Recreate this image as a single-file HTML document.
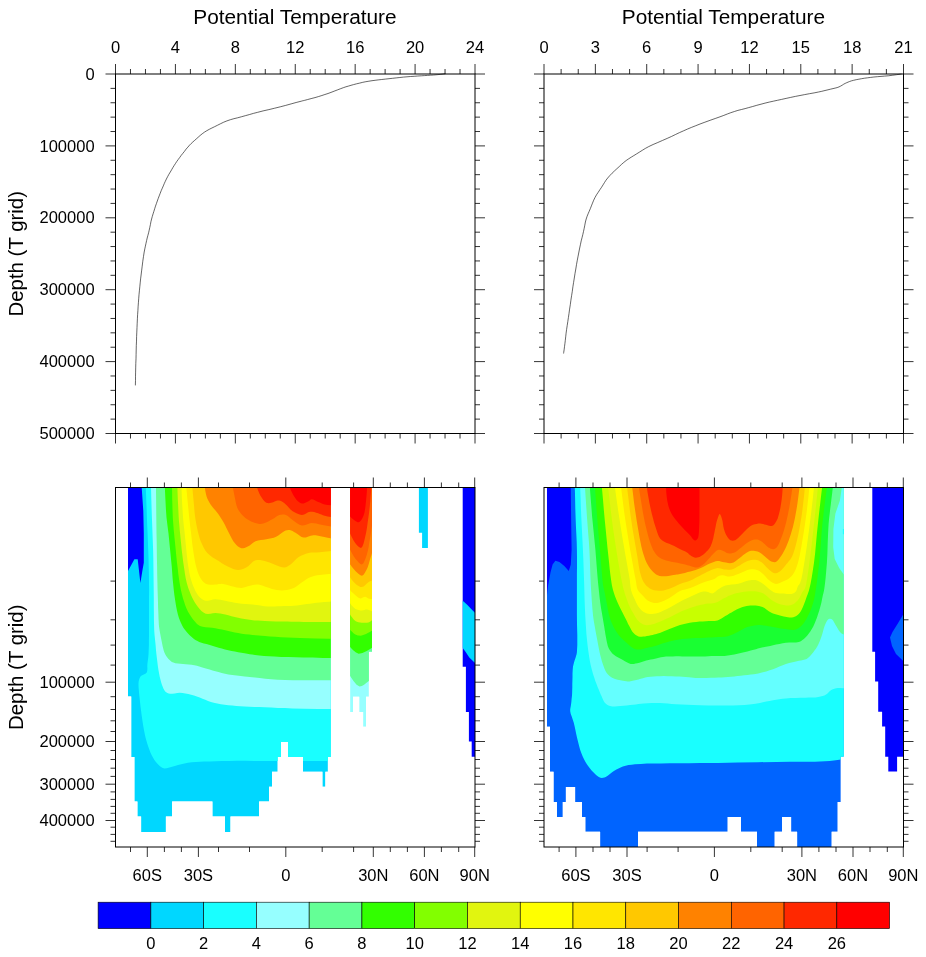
<!DOCTYPE html>
<html lang="en"><head><meta charset="utf-8"><title>Potential Temperature</title>
<style>html,body{margin:0;padding:0;background:#fff;}svg{display:block;}text{font-family:'Liberation Sans', sans-serif;fill:#000;}</style>
</head><body><div id="fig" style="width:926px;height:957px;will-change:transform">
<svg width="926" height="957" viewBox="0 0 926 957">
<rect x="0" y="0" width="926" height="957" fill="#fff"/>
<rect x="115.5" y="74.0" width="359.5" height="359.5" fill="none" stroke="#000" stroke-width="1.0"/>
<line x1="115.50" y1="64.00" x2="115.50" y2="74.00" stroke="#000" stroke-width="0.8"/>
<line x1="115.50" y1="433.50" x2="115.50" y2="443.50" stroke="#000" stroke-width="0.8"/>
<text transform="translate(115.50 52.60) scale(1.06 1)" font-size="15.6" text-anchor="middle">0</text>
<line x1="130.48" y1="69.00" x2="130.48" y2="74.00" stroke="#000" stroke-width="0.8"/>
<line x1="130.48" y1="433.50" x2="130.48" y2="438.50" stroke="#000" stroke-width="0.8"/>
<line x1="145.46" y1="69.00" x2="145.46" y2="74.00" stroke="#000" stroke-width="0.8"/>
<line x1="145.46" y1="433.50" x2="145.46" y2="438.50" stroke="#000" stroke-width="0.8"/>
<line x1="160.44" y1="69.00" x2="160.44" y2="74.00" stroke="#000" stroke-width="0.8"/>
<line x1="160.44" y1="433.50" x2="160.44" y2="438.50" stroke="#000" stroke-width="0.8"/>
<line x1="175.42" y1="64.00" x2="175.42" y2="74.00" stroke="#000" stroke-width="0.8"/>
<line x1="175.42" y1="433.50" x2="175.42" y2="443.50" stroke="#000" stroke-width="0.8"/>
<text transform="translate(175.42 52.60) scale(1.06 1)" font-size="15.6" text-anchor="middle">4</text>
<line x1="190.40" y1="69.00" x2="190.40" y2="74.00" stroke="#000" stroke-width="0.8"/>
<line x1="190.40" y1="433.50" x2="190.40" y2="438.50" stroke="#000" stroke-width="0.8"/>
<line x1="205.38" y1="69.00" x2="205.38" y2="74.00" stroke="#000" stroke-width="0.8"/>
<line x1="205.38" y1="433.50" x2="205.38" y2="438.50" stroke="#000" stroke-width="0.8"/>
<line x1="220.35" y1="69.00" x2="220.35" y2="74.00" stroke="#000" stroke-width="0.8"/>
<line x1="220.35" y1="433.50" x2="220.35" y2="438.50" stroke="#000" stroke-width="0.8"/>
<line x1="235.33" y1="64.00" x2="235.33" y2="74.00" stroke="#000" stroke-width="0.8"/>
<line x1="235.33" y1="433.50" x2="235.33" y2="443.50" stroke="#000" stroke-width="0.8"/>
<text transform="translate(235.33 52.60) scale(1.06 1)" font-size="15.6" text-anchor="middle">8</text>
<line x1="250.31" y1="69.00" x2="250.31" y2="74.00" stroke="#000" stroke-width="0.8"/>
<line x1="250.31" y1="433.50" x2="250.31" y2="438.50" stroke="#000" stroke-width="0.8"/>
<line x1="265.29" y1="69.00" x2="265.29" y2="74.00" stroke="#000" stroke-width="0.8"/>
<line x1="265.29" y1="433.50" x2="265.29" y2="438.50" stroke="#000" stroke-width="0.8"/>
<line x1="280.27" y1="69.00" x2="280.27" y2="74.00" stroke="#000" stroke-width="0.8"/>
<line x1="280.27" y1="433.50" x2="280.27" y2="438.50" stroke="#000" stroke-width="0.8"/>
<line x1="295.25" y1="64.00" x2="295.25" y2="74.00" stroke="#000" stroke-width="0.8"/>
<line x1="295.25" y1="433.50" x2="295.25" y2="443.50" stroke="#000" stroke-width="0.8"/>
<text transform="translate(295.25 52.60) scale(1.06 1)" font-size="15.6" text-anchor="middle">12</text>
<line x1="310.23" y1="69.00" x2="310.23" y2="74.00" stroke="#000" stroke-width="0.8"/>
<line x1="310.23" y1="433.50" x2="310.23" y2="438.50" stroke="#000" stroke-width="0.8"/>
<line x1="325.21" y1="69.00" x2="325.21" y2="74.00" stroke="#000" stroke-width="0.8"/>
<line x1="325.21" y1="433.50" x2="325.21" y2="438.50" stroke="#000" stroke-width="0.8"/>
<line x1="340.19" y1="69.00" x2="340.19" y2="74.00" stroke="#000" stroke-width="0.8"/>
<line x1="340.19" y1="433.50" x2="340.19" y2="438.50" stroke="#000" stroke-width="0.8"/>
<line x1="355.17" y1="64.00" x2="355.17" y2="74.00" stroke="#000" stroke-width="0.8"/>
<line x1="355.17" y1="433.50" x2="355.17" y2="443.50" stroke="#000" stroke-width="0.8"/>
<text transform="translate(355.17 52.60) scale(1.06 1)" font-size="15.6" text-anchor="middle">16</text>
<line x1="370.15" y1="69.00" x2="370.15" y2="74.00" stroke="#000" stroke-width="0.8"/>
<line x1="370.15" y1="433.50" x2="370.15" y2="438.50" stroke="#000" stroke-width="0.8"/>
<line x1="385.12" y1="69.00" x2="385.12" y2="74.00" stroke="#000" stroke-width="0.8"/>
<line x1="385.12" y1="433.50" x2="385.12" y2="438.50" stroke="#000" stroke-width="0.8"/>
<line x1="400.10" y1="69.00" x2="400.10" y2="74.00" stroke="#000" stroke-width="0.8"/>
<line x1="400.10" y1="433.50" x2="400.10" y2="438.50" stroke="#000" stroke-width="0.8"/>
<line x1="415.08" y1="64.00" x2="415.08" y2="74.00" stroke="#000" stroke-width="0.8"/>
<line x1="415.08" y1="433.50" x2="415.08" y2="443.50" stroke="#000" stroke-width="0.8"/>
<text transform="translate(415.08 52.60) scale(1.06 1)" font-size="15.6" text-anchor="middle">20</text>
<line x1="430.06" y1="69.00" x2="430.06" y2="74.00" stroke="#000" stroke-width="0.8"/>
<line x1="430.06" y1="433.50" x2="430.06" y2="438.50" stroke="#000" stroke-width="0.8"/>
<line x1="445.04" y1="69.00" x2="445.04" y2="74.00" stroke="#000" stroke-width="0.8"/>
<line x1="445.04" y1="433.50" x2="445.04" y2="438.50" stroke="#000" stroke-width="0.8"/>
<line x1="460.02" y1="69.00" x2="460.02" y2="74.00" stroke="#000" stroke-width="0.8"/>
<line x1="460.02" y1="433.50" x2="460.02" y2="438.50" stroke="#000" stroke-width="0.8"/>
<line x1="475.00" y1="64.00" x2="475.00" y2="74.00" stroke="#000" stroke-width="0.8"/>
<line x1="475.00" y1="433.50" x2="475.00" y2="443.50" stroke="#000" stroke-width="0.8"/>
<text transform="translate(475.00 52.60) scale(1.06 1)" font-size="15.6" text-anchor="middle">24</text>
<line x1="105.50" y1="74.00" x2="115.50" y2="74.00" stroke="#000" stroke-width="0.8"/>
<line x1="475.00" y1="74.00" x2="485.00" y2="74.00" stroke="#000" stroke-width="0.8"/>
<line x1="110.50" y1="88.38" x2="115.50" y2="88.38" stroke="#000" stroke-width="0.8"/>
<line x1="475.00" y1="88.38" x2="480.00" y2="88.38" stroke="#000" stroke-width="0.8"/>
<line x1="110.50" y1="102.76" x2="115.50" y2="102.76" stroke="#000" stroke-width="0.8"/>
<line x1="475.00" y1="102.76" x2="480.00" y2="102.76" stroke="#000" stroke-width="0.8"/>
<line x1="110.50" y1="117.14" x2="115.50" y2="117.14" stroke="#000" stroke-width="0.8"/>
<line x1="475.00" y1="117.14" x2="480.00" y2="117.14" stroke="#000" stroke-width="0.8"/>
<line x1="110.50" y1="131.52" x2="115.50" y2="131.52" stroke="#000" stroke-width="0.8"/>
<line x1="475.00" y1="131.52" x2="480.00" y2="131.52" stroke="#000" stroke-width="0.8"/>
<line x1="105.50" y1="145.90" x2="115.50" y2="145.90" stroke="#000" stroke-width="0.8"/>
<line x1="475.00" y1="145.90" x2="485.00" y2="145.90" stroke="#000" stroke-width="0.8"/>
<line x1="110.50" y1="160.28" x2="115.50" y2="160.28" stroke="#000" stroke-width="0.8"/>
<line x1="475.00" y1="160.28" x2="480.00" y2="160.28" stroke="#000" stroke-width="0.8"/>
<line x1="110.50" y1="174.66" x2="115.50" y2="174.66" stroke="#000" stroke-width="0.8"/>
<line x1="475.00" y1="174.66" x2="480.00" y2="174.66" stroke="#000" stroke-width="0.8"/>
<line x1="110.50" y1="189.04" x2="115.50" y2="189.04" stroke="#000" stroke-width="0.8"/>
<line x1="475.00" y1="189.04" x2="480.00" y2="189.04" stroke="#000" stroke-width="0.8"/>
<line x1="110.50" y1="203.42" x2="115.50" y2="203.42" stroke="#000" stroke-width="0.8"/>
<line x1="475.00" y1="203.42" x2="480.00" y2="203.42" stroke="#000" stroke-width="0.8"/>
<line x1="105.50" y1="217.80" x2="115.50" y2="217.80" stroke="#000" stroke-width="0.8"/>
<line x1="475.00" y1="217.80" x2="485.00" y2="217.80" stroke="#000" stroke-width="0.8"/>
<line x1="110.50" y1="232.18" x2="115.50" y2="232.18" stroke="#000" stroke-width="0.8"/>
<line x1="475.00" y1="232.18" x2="480.00" y2="232.18" stroke="#000" stroke-width="0.8"/>
<line x1="110.50" y1="246.56" x2="115.50" y2="246.56" stroke="#000" stroke-width="0.8"/>
<line x1="475.00" y1="246.56" x2="480.00" y2="246.56" stroke="#000" stroke-width="0.8"/>
<line x1="110.50" y1="260.94" x2="115.50" y2="260.94" stroke="#000" stroke-width="0.8"/>
<line x1="475.00" y1="260.94" x2="480.00" y2="260.94" stroke="#000" stroke-width="0.8"/>
<line x1="110.50" y1="275.32" x2="115.50" y2="275.32" stroke="#000" stroke-width="0.8"/>
<line x1="475.00" y1="275.32" x2="480.00" y2="275.32" stroke="#000" stroke-width="0.8"/>
<line x1="105.50" y1="289.70" x2="115.50" y2="289.70" stroke="#000" stroke-width="0.8"/>
<line x1="475.00" y1="289.70" x2="485.00" y2="289.70" stroke="#000" stroke-width="0.8"/>
<line x1="110.50" y1="304.08" x2="115.50" y2="304.08" stroke="#000" stroke-width="0.8"/>
<line x1="475.00" y1="304.08" x2="480.00" y2="304.08" stroke="#000" stroke-width="0.8"/>
<line x1="110.50" y1="318.46" x2="115.50" y2="318.46" stroke="#000" stroke-width="0.8"/>
<line x1="475.00" y1="318.46" x2="480.00" y2="318.46" stroke="#000" stroke-width="0.8"/>
<line x1="110.50" y1="332.84" x2="115.50" y2="332.84" stroke="#000" stroke-width="0.8"/>
<line x1="475.00" y1="332.84" x2="480.00" y2="332.84" stroke="#000" stroke-width="0.8"/>
<line x1="110.50" y1="347.22" x2="115.50" y2="347.22" stroke="#000" stroke-width="0.8"/>
<line x1="475.00" y1="347.22" x2="480.00" y2="347.22" stroke="#000" stroke-width="0.8"/>
<line x1="105.50" y1="361.60" x2="115.50" y2="361.60" stroke="#000" stroke-width="0.8"/>
<line x1="475.00" y1="361.60" x2="485.00" y2="361.60" stroke="#000" stroke-width="0.8"/>
<line x1="110.50" y1="375.98" x2="115.50" y2="375.98" stroke="#000" stroke-width="0.8"/>
<line x1="475.00" y1="375.98" x2="480.00" y2="375.98" stroke="#000" stroke-width="0.8"/>
<line x1="110.50" y1="390.36" x2="115.50" y2="390.36" stroke="#000" stroke-width="0.8"/>
<line x1="475.00" y1="390.36" x2="480.00" y2="390.36" stroke="#000" stroke-width="0.8"/>
<line x1="110.50" y1="404.74" x2="115.50" y2="404.74" stroke="#000" stroke-width="0.8"/>
<line x1="475.00" y1="404.74" x2="480.00" y2="404.74" stroke="#000" stroke-width="0.8"/>
<line x1="110.50" y1="419.12" x2="115.50" y2="419.12" stroke="#000" stroke-width="0.8"/>
<line x1="475.00" y1="419.12" x2="480.00" y2="419.12" stroke="#000" stroke-width="0.8"/>
<line x1="105.50" y1="433.50" x2="115.50" y2="433.50" stroke="#000" stroke-width="0.8"/>
<line x1="475.00" y1="433.50" x2="485.00" y2="433.50" stroke="#000" stroke-width="0.8"/>
<text x="294.95" y="24.10" font-size="20" text-anchor="middle" textLength="203.4" lengthAdjust="spacingAndGlyphs">Potential Temperature</text>
<rect x="544.0" y="74.0" width="359.5" height="359.5" fill="none" stroke="#000" stroke-width="1.0"/>
<line x1="544.00" y1="64.00" x2="544.00" y2="74.00" stroke="#000" stroke-width="0.8"/>
<line x1="544.00" y1="433.50" x2="544.00" y2="443.50" stroke="#000" stroke-width="0.8"/>
<text transform="translate(544.00 52.60) scale(1.06 1)" font-size="15.6" text-anchor="middle">0</text>
<line x1="561.12" y1="69.00" x2="561.12" y2="74.00" stroke="#000" stroke-width="0.8"/>
<line x1="561.12" y1="433.50" x2="561.12" y2="438.50" stroke="#000" stroke-width="0.8"/>
<line x1="578.24" y1="69.00" x2="578.24" y2="74.00" stroke="#000" stroke-width="0.8"/>
<line x1="578.24" y1="433.50" x2="578.24" y2="438.50" stroke="#000" stroke-width="0.8"/>
<line x1="595.36" y1="64.00" x2="595.36" y2="74.00" stroke="#000" stroke-width="0.8"/>
<line x1="595.36" y1="433.50" x2="595.36" y2="443.50" stroke="#000" stroke-width="0.8"/>
<text transform="translate(595.36 52.60) scale(1.06 1)" font-size="15.6" text-anchor="middle">3</text>
<line x1="612.48" y1="69.00" x2="612.48" y2="74.00" stroke="#000" stroke-width="0.8"/>
<line x1="612.48" y1="433.50" x2="612.48" y2="438.50" stroke="#000" stroke-width="0.8"/>
<line x1="629.60" y1="69.00" x2="629.60" y2="74.00" stroke="#000" stroke-width="0.8"/>
<line x1="629.60" y1="433.50" x2="629.60" y2="438.50" stroke="#000" stroke-width="0.8"/>
<line x1="646.71" y1="64.00" x2="646.71" y2="74.00" stroke="#000" stroke-width="0.8"/>
<line x1="646.71" y1="433.50" x2="646.71" y2="443.50" stroke="#000" stroke-width="0.8"/>
<text transform="translate(646.71 52.60) scale(1.06 1)" font-size="15.6" text-anchor="middle">6</text>
<line x1="663.83" y1="69.00" x2="663.83" y2="74.00" stroke="#000" stroke-width="0.8"/>
<line x1="663.83" y1="433.50" x2="663.83" y2="438.50" stroke="#000" stroke-width="0.8"/>
<line x1="680.95" y1="69.00" x2="680.95" y2="74.00" stroke="#000" stroke-width="0.8"/>
<line x1="680.95" y1="433.50" x2="680.95" y2="438.50" stroke="#000" stroke-width="0.8"/>
<line x1="698.07" y1="64.00" x2="698.07" y2="74.00" stroke="#000" stroke-width="0.8"/>
<line x1="698.07" y1="433.50" x2="698.07" y2="443.50" stroke="#000" stroke-width="0.8"/>
<text transform="translate(698.07 52.60) scale(1.06 1)" font-size="15.6" text-anchor="middle">9</text>
<line x1="715.19" y1="69.00" x2="715.19" y2="74.00" stroke="#000" stroke-width="0.8"/>
<line x1="715.19" y1="433.50" x2="715.19" y2="438.50" stroke="#000" stroke-width="0.8"/>
<line x1="732.31" y1="69.00" x2="732.31" y2="74.00" stroke="#000" stroke-width="0.8"/>
<line x1="732.31" y1="433.50" x2="732.31" y2="438.50" stroke="#000" stroke-width="0.8"/>
<line x1="749.43" y1="64.00" x2="749.43" y2="74.00" stroke="#000" stroke-width="0.8"/>
<line x1="749.43" y1="433.50" x2="749.43" y2="443.50" stroke="#000" stroke-width="0.8"/>
<text transform="translate(749.43 52.60) scale(1.06 1)" font-size="15.6" text-anchor="middle">12</text>
<line x1="766.55" y1="69.00" x2="766.55" y2="74.00" stroke="#000" stroke-width="0.8"/>
<line x1="766.55" y1="433.50" x2="766.55" y2="438.50" stroke="#000" stroke-width="0.8"/>
<line x1="783.67" y1="69.00" x2="783.67" y2="74.00" stroke="#000" stroke-width="0.8"/>
<line x1="783.67" y1="433.50" x2="783.67" y2="438.50" stroke="#000" stroke-width="0.8"/>
<line x1="800.79" y1="64.00" x2="800.79" y2="74.00" stroke="#000" stroke-width="0.8"/>
<line x1="800.79" y1="433.50" x2="800.79" y2="443.50" stroke="#000" stroke-width="0.8"/>
<text transform="translate(800.79 52.60) scale(1.06 1)" font-size="15.6" text-anchor="middle">15</text>
<line x1="817.90" y1="69.00" x2="817.90" y2="74.00" stroke="#000" stroke-width="0.8"/>
<line x1="817.90" y1="433.50" x2="817.90" y2="438.50" stroke="#000" stroke-width="0.8"/>
<line x1="835.02" y1="69.00" x2="835.02" y2="74.00" stroke="#000" stroke-width="0.8"/>
<line x1="835.02" y1="433.50" x2="835.02" y2="438.50" stroke="#000" stroke-width="0.8"/>
<line x1="852.14" y1="64.00" x2="852.14" y2="74.00" stroke="#000" stroke-width="0.8"/>
<line x1="852.14" y1="433.50" x2="852.14" y2="443.50" stroke="#000" stroke-width="0.8"/>
<text transform="translate(852.14 52.60) scale(1.06 1)" font-size="15.6" text-anchor="middle">18</text>
<line x1="869.26" y1="69.00" x2="869.26" y2="74.00" stroke="#000" stroke-width="0.8"/>
<line x1="869.26" y1="433.50" x2="869.26" y2="438.50" stroke="#000" stroke-width="0.8"/>
<line x1="886.38" y1="69.00" x2="886.38" y2="74.00" stroke="#000" stroke-width="0.8"/>
<line x1="886.38" y1="433.50" x2="886.38" y2="438.50" stroke="#000" stroke-width="0.8"/>
<line x1="903.50" y1="64.00" x2="903.50" y2="74.00" stroke="#000" stroke-width="0.8"/>
<line x1="903.50" y1="433.50" x2="903.50" y2="443.50" stroke="#000" stroke-width="0.8"/>
<text transform="translate(903.50 52.60) scale(1.06 1)" font-size="15.6" text-anchor="middle">21</text>
<line x1="534.00" y1="74.00" x2="544.00" y2="74.00" stroke="#000" stroke-width="0.8"/>
<line x1="903.50" y1="74.00" x2="913.50" y2="74.00" stroke="#000" stroke-width="0.8"/>
<line x1="539.00" y1="88.38" x2="544.00" y2="88.38" stroke="#000" stroke-width="0.8"/>
<line x1="903.50" y1="88.38" x2="908.50" y2="88.38" stroke="#000" stroke-width="0.8"/>
<line x1="539.00" y1="102.76" x2="544.00" y2="102.76" stroke="#000" stroke-width="0.8"/>
<line x1="903.50" y1="102.76" x2="908.50" y2="102.76" stroke="#000" stroke-width="0.8"/>
<line x1="539.00" y1="117.14" x2="544.00" y2="117.14" stroke="#000" stroke-width="0.8"/>
<line x1="903.50" y1="117.14" x2="908.50" y2="117.14" stroke="#000" stroke-width="0.8"/>
<line x1="539.00" y1="131.52" x2="544.00" y2="131.52" stroke="#000" stroke-width="0.8"/>
<line x1="903.50" y1="131.52" x2="908.50" y2="131.52" stroke="#000" stroke-width="0.8"/>
<line x1="534.00" y1="145.90" x2="544.00" y2="145.90" stroke="#000" stroke-width="0.8"/>
<line x1="903.50" y1="145.90" x2="913.50" y2="145.90" stroke="#000" stroke-width="0.8"/>
<line x1="539.00" y1="160.28" x2="544.00" y2="160.28" stroke="#000" stroke-width="0.8"/>
<line x1="903.50" y1="160.28" x2="908.50" y2="160.28" stroke="#000" stroke-width="0.8"/>
<line x1="539.00" y1="174.66" x2="544.00" y2="174.66" stroke="#000" stroke-width="0.8"/>
<line x1="903.50" y1="174.66" x2="908.50" y2="174.66" stroke="#000" stroke-width="0.8"/>
<line x1="539.00" y1="189.04" x2="544.00" y2="189.04" stroke="#000" stroke-width="0.8"/>
<line x1="903.50" y1="189.04" x2="908.50" y2="189.04" stroke="#000" stroke-width="0.8"/>
<line x1="539.00" y1="203.42" x2="544.00" y2="203.42" stroke="#000" stroke-width="0.8"/>
<line x1="903.50" y1="203.42" x2="908.50" y2="203.42" stroke="#000" stroke-width="0.8"/>
<line x1="534.00" y1="217.80" x2="544.00" y2="217.80" stroke="#000" stroke-width="0.8"/>
<line x1="903.50" y1="217.80" x2="913.50" y2="217.80" stroke="#000" stroke-width="0.8"/>
<line x1="539.00" y1="232.18" x2="544.00" y2="232.18" stroke="#000" stroke-width="0.8"/>
<line x1="903.50" y1="232.18" x2="908.50" y2="232.18" stroke="#000" stroke-width="0.8"/>
<line x1="539.00" y1="246.56" x2="544.00" y2="246.56" stroke="#000" stroke-width="0.8"/>
<line x1="903.50" y1="246.56" x2="908.50" y2="246.56" stroke="#000" stroke-width="0.8"/>
<line x1="539.00" y1="260.94" x2="544.00" y2="260.94" stroke="#000" stroke-width="0.8"/>
<line x1="903.50" y1="260.94" x2="908.50" y2="260.94" stroke="#000" stroke-width="0.8"/>
<line x1="539.00" y1="275.32" x2="544.00" y2="275.32" stroke="#000" stroke-width="0.8"/>
<line x1="903.50" y1="275.32" x2="908.50" y2="275.32" stroke="#000" stroke-width="0.8"/>
<line x1="534.00" y1="289.70" x2="544.00" y2="289.70" stroke="#000" stroke-width="0.8"/>
<line x1="903.50" y1="289.70" x2="913.50" y2="289.70" stroke="#000" stroke-width="0.8"/>
<line x1="539.00" y1="304.08" x2="544.00" y2="304.08" stroke="#000" stroke-width="0.8"/>
<line x1="903.50" y1="304.08" x2="908.50" y2="304.08" stroke="#000" stroke-width="0.8"/>
<line x1="539.00" y1="318.46" x2="544.00" y2="318.46" stroke="#000" stroke-width="0.8"/>
<line x1="903.50" y1="318.46" x2="908.50" y2="318.46" stroke="#000" stroke-width="0.8"/>
<line x1="539.00" y1="332.84" x2="544.00" y2="332.84" stroke="#000" stroke-width="0.8"/>
<line x1="903.50" y1="332.84" x2="908.50" y2="332.84" stroke="#000" stroke-width="0.8"/>
<line x1="539.00" y1="347.22" x2="544.00" y2="347.22" stroke="#000" stroke-width="0.8"/>
<line x1="903.50" y1="347.22" x2="908.50" y2="347.22" stroke="#000" stroke-width="0.8"/>
<line x1="534.00" y1="361.60" x2="544.00" y2="361.60" stroke="#000" stroke-width="0.8"/>
<line x1="903.50" y1="361.60" x2="913.50" y2="361.60" stroke="#000" stroke-width="0.8"/>
<line x1="539.00" y1="375.98" x2="544.00" y2="375.98" stroke="#000" stroke-width="0.8"/>
<line x1="903.50" y1="375.98" x2="908.50" y2="375.98" stroke="#000" stroke-width="0.8"/>
<line x1="539.00" y1="390.36" x2="544.00" y2="390.36" stroke="#000" stroke-width="0.8"/>
<line x1="903.50" y1="390.36" x2="908.50" y2="390.36" stroke="#000" stroke-width="0.8"/>
<line x1="539.00" y1="404.74" x2="544.00" y2="404.74" stroke="#000" stroke-width="0.8"/>
<line x1="903.50" y1="404.74" x2="908.50" y2="404.74" stroke="#000" stroke-width="0.8"/>
<line x1="539.00" y1="419.12" x2="544.00" y2="419.12" stroke="#000" stroke-width="0.8"/>
<line x1="903.50" y1="419.12" x2="908.50" y2="419.12" stroke="#000" stroke-width="0.8"/>
<line x1="534.00" y1="433.50" x2="544.00" y2="433.50" stroke="#000" stroke-width="0.8"/>
<line x1="903.50" y1="433.50" x2="913.50" y2="433.50" stroke="#000" stroke-width="0.8"/>
<text x="723.45" y="24.10" font-size="20" text-anchor="middle" textLength="203.4" lengthAdjust="spacingAndGlyphs">Potential Temperature</text>
<text transform="translate(94.60 79.60) scale(1.06 1)" font-size="15.6" text-anchor="end">0</text>
<text transform="translate(94.60 151.50) scale(1.06 1)" font-size="15.6" text-anchor="end">100000</text>
<text transform="translate(94.60 223.40) scale(1.06 1)" font-size="15.6" text-anchor="end">200000</text>
<text transform="translate(94.60 295.30) scale(1.06 1)" font-size="15.6" text-anchor="end">300000</text>
<text transform="translate(94.60 367.20) scale(1.06 1)" font-size="15.6" text-anchor="end">400000</text>
<text transform="translate(94.60 439.10) scale(1.06 1)" font-size="15.6" text-anchor="end">500000</text>
<text x="23.40" y="253.75" font-size="20" text-anchor="middle" textLength="125.4" lengthAdjust="spacingAndGlyphs" transform="rotate(-90 23.40 253.75)">Depth (T grid)</text>
<polyline fill="none" stroke="#000" stroke-width="0.6" stroke-linejoin="round" points="445.3,73.8 444.0,73.9 440.9,74.3 437.1,74.7 433.6,75.0 430.6,75.2 427.5,75.4 424.4,75.6 421.3,75.8 417.8,76.0 414.2,76.3 410.6,76.5 407.0,76.8 403.4,77.1 399.8,77.5 396.2,77.9 392.6,78.3 389.0,78.7 385.3,79.1 381.7,79.5 378.2,79.9 375.1,80.3 372.0,80.7 368.9,81.2 365.9,81.7 362.8,82.3 359.7,83.1 356.6,83.8 353.6,84.6 351.0,85.3 348.4,86.1 345.9,86.8 343.3,87.7 340.3,88.8 337.2,90.0 334.1,91.2 331.0,92.4 328.0,93.5 324.9,94.5 321.9,95.5 318.7,96.5 315.0,97.6 311.1,98.6 307.4,99.6 304.4,100.4 303.2,100.7 302.2,100.9 301.3,101.2 300.0,101.5 296.1,102.5 291.1,103.9 285.7,105.4 280.3,106.8 274.7,108.2 268.9,109.6 263.1,110.9 257.7,112.3 253.4,113.4 249.3,114.6 245.3,115.7 241.3,116.8 237.6,117.8 233.9,118.7 230.4,119.7 226.9,120.9 223.7,122.2 220.6,123.7 217.6,125.2 214.6,126.7 211.9,128.0 209.3,129.3 206.8,130.7 204.4,132.2 202.2,133.8 200.1,135.5 198.1,137.3 196.2,139.0 194.5,140.5 192.8,142.0 191.2,143.5 189.6,145.1 187.9,147.1 186.1,149.1 184.5,151.3 182.8,153.4 181.2,155.4 179.7,157.5 178.2,159.5 176.7,161.6 175.4,163.6 174.1,165.6 172.8,167.7 171.6,169.8 170.3,172.0 168.9,174.3 167.6,176.7 166.4,179.0 165.3,181.3 164.3,183.5 163.3,185.9 162.3,188.2 161.2,190.7 160.2,193.3 159.2,195.9 158.2,198.5 157.3,201.0 156.4,203.6 155.5,206.1 154.7,208.7 153.9,211.3 153.1,213.8 152.3,216.4 151.6,219.0 150.9,221.8 150.4,224.6 149.8,227.4 149.2,230.2 148.6,232.8 147.9,235.4 147.2,238.0 146.6,240.6 146.0,243.3 145.4,246.1 144.8,248.9 144.2,252.0 143.5,256.4 142.8,261.2 142.2,266.2 141.6,270.9 141.1,275.0 140.6,278.9 140.2,282.9 139.8,286.8 139.4,290.8 139.0,294.8 138.7,298.8 138.4,302.8 138.1,306.8 137.9,310.7 137.6,314.7 137.4,318.8 137.2,323.2 137.0,327.6 136.8,332.1 136.6,336.6 136.5,341.1 136.3,345.5 136.2,350.0 136.1,354.4 136.0,358.9 135.8,363.4 135.7,367.9 135.6,372.1 135.5,376.2 135.5,380.5 135.4,384.0 135.4,385.4"/>
<polyline fill="none" stroke="#000" stroke-width="0.6" stroke-linejoin="round" points="901.6,74.0 900.1,74.2 896.6,74.7 892.2,75.3 888.2,75.8 884.6,76.1 881.0,76.4 877.4,76.7 873.9,77.0 870.7,77.4 867.6,77.8 864.6,78.2 861.6,78.7 858.9,79.2 856.2,79.7 853.6,80.3 851.3,80.9 849.6,81.5 848.1,82.1 846.7,82.7 845.2,83.4 843.7,84.2 842.2,85.2 840.6,86.1 839.0,86.9 837.1,87.6 835.1,88.1 833.0,88.6 830.8,89.1 828.0,89.8 825.0,90.5 821.8,91.3 818.5,92.0 814.1,92.9 809.5,93.7 804.7,94.6 800.0,95.5 795.4,96.4 790.7,97.4 786.1,98.4 781.6,99.4 777.4,100.3 773.3,101.2 769.2,102.1 765.1,103.1 761.0,104.2 756.8,105.3 752.7,106.5 748.7,107.6 745.1,108.6 741.5,109.5 737.9,110.4 734.4,111.5 730.8,112.7 727.3,114.0 723.8,115.4 720.0,116.8 715.2,118.5 710.1,120.3 704.9,122.2 700.0,124.0 695.8,125.7 691.7,127.3 687.6,129.0 683.6,130.8 679.5,132.6 675.5,134.5 671.4,136.5 667.2,138.4 662.6,140.4 657.8,142.5 653.1,144.5 648.7,146.6 645.4,148.4 642.3,150.3 639.3,152.2 636.4,154.0 633.8,155.6 631.2,157.2 628.7,158.8 626.2,160.5 623.8,162.4 621.5,164.4 619.2,166.6 616.9,168.7 614.5,170.9 612.1,173.2 609.8,175.6 607.7,178.0 606.0,180.2 604.5,182.5 603.1,184.8 601.6,187.2 599.9,189.7 598.2,192.3 596.5,194.8 595.0,197.5 593.7,200.2 592.5,203.1 591.4,205.9 590.3,208.7 589.2,211.3 588.1,213.8 587.1,216.3 586.2,219.0 585.4,222.0 584.8,225.2 584.2,228.3 583.5,231.5 582.8,234.6 582.0,237.8 581.2,240.9 580.5,244.2 579.7,248.0 578.9,252.0 578.1,256.1 577.3,260.2 576.5,264.6 575.8,269.0 575.0,273.5 574.3,278.0 573.6,282.4 572.9,286.8 572.3,291.3 571.6,295.7 570.9,300.2 570.3,304.7 569.6,309.1 569.0,313.5 568.4,317.6 567.8,321.6 567.2,325.6 566.6,329.5 566.1,333.2 565.7,336.8 565.3,340.4 564.9,343.7 564.5,346.7 564.1,349.9 563.7,352.5 563.6,353.5"/>
<defs>
<clipPath id="cm3"><path d="M128.0 487.5 L330.8 487.5 L330.8 756.9 L327.9 756.9 L327.9 771.8 L325.4 771.8 L325.4 786.7 L322.4 786.7 L322.4 771.8 L303.0 771.8 L303.0 756.9 L288.1 756.9 L288.1 742.0 L280.9 742.0 L280.9 756.9 L277.7 756.9 L277.7 771.8 L272.0 771.8 L272.0 786.7 L269.0 786.7 L269.0 801.6 L259.1 801.6 L259.1 816.5 L230.5 816.5 L230.5 831.9 L225.0 831.9 L225.0 816.5 L212.4 816.5 L212.4 801.6 L172.1 801.6 L172.1 816.5 L165.9 816.5 L165.9 831.9 L141.1 831.9 L141.1 816.5 L137.4 816.5 L137.4 801.6 L134.4 801.6 L134.4 756.9 L131.2 756.9 L131.2 696.6 L128.0 696.6Z"/></clipPath>
<clipPath id="cs3"><path d="M350.1 487.5 L372.0 487.5 L372.0 651.7 L368.9 651.7 L368.9 696.8 L366.0 696.8 L366.0 726.7 L363.1 726.7 L363.1 712.0 L359.2 712.0 L359.2 696.8 L353.0 696.8 L353.0 712.0 L350.1 712.0Z"/></clipPath>
</defs>
<g clip-path="url(#cm3)">
<polygon fill="#00d7ff" points="128.0,487.5 330.8,487.5 330.8,756.9 327.9,756.9 327.9,771.8 325.4,771.8 325.4,786.7 322.4,786.7 322.4,771.8 303.0,771.8 303.0,756.9 288.1,756.9 288.1,742.0 280.9,742.0 280.9,756.9 277.7,756.9 277.7,771.8 272.0,771.8 272.0,786.7 269.0,786.7 269.0,801.6 259.1,801.6 259.1,816.5 230.5,816.5 230.5,831.9 225.0,831.9 225.0,816.5 212.4,816.5 212.4,801.6 172.1,801.6 172.1,816.5 165.9,816.5 165.9,831.9 141.1,831.9 141.1,816.5 137.4,816.5 137.4,801.6 134.4,801.6 134.4,756.9 131.2,756.9 131.2,696.6 128.0,696.6"/>
<polygon fill="#0000ff" points="128.0,487.5 141.7,487.5 143.3,511.0 143.8,533.6 143.8,562.8 142.5,570.0 140.4,583.0 137.7,559.2 134.4,559.2 128.0,570.9"/>
<polygon fill="#19ffff" points="145.8,487.5 145.9,490.7 146.2,498.6 146.6,508.4 146.9,517.4 147.2,525.4 147.6,533.5 147.9,541.7 148.2,549.8 148.5,557.9 148.7,566.0 148.9,574.1 149.0,582.2 149.1,590.5 149.0,598.9 149.0,607.0 149.0,614.6 149.0,620.0 149.0,625.1 149.0,630.1 149.0,635.0 148.9,640.0 148.9,645.0 148.7,649.9 148.5,654.2 148.3,656.9 148.0,659.3 147.7,661.6 147.4,663.9 147.3,666.3 147.4,668.7 147.2,671.0 146.6,672.8 145.4,673.8 143.8,674.5 142.2,675.2 140.9,676.0 140.2,676.9 139.7,677.9 139.3,679.0 139.0,680.1 138.7,681.2 138.6,682.3 138.5,683.5 138.5,684.9 138.6,687.7 138.9,690.9 139.2,694.4 139.6,697.9 140.0,702.1 140.5,706.6 141.1,711.1 141.7,715.7 142.4,720.6 143.2,725.7 144.1,730.7 145.0,735.2 145.7,738.3 146.5,741.1 147.3,743.8 148.2,746.5 149.3,749.4 150.4,752.4 151.7,755.2 153.1,757.8 154.4,759.9 155.7,761.8 157.2,763.6 158.7,765.1 160.0,766.2 161.4,767.2 162.8,768.0 164.4,768.4 166.7,768.3 169.4,767.6 172.1,766.7 174.9,765.9 178.0,765.1 181.2,764.2 184.5,763.4 187.9,762.7 191.7,762.2 195.7,762.0 199.8,761.8 204.1,761.6 209.7,761.4 215.6,761.2 221.9,761.0 228.4,760.9 236.7,760.8 245.5,760.8 254.8,760.9 265.0,760.9 284.2,760.9 307.3,760.9 326.8,760.9 335.0,760.9 335.0,485.5 145.8,485.5"/>
<polygon fill="#96ffff" points="151.0,487.5 151.1,490.7 151.3,498.6 151.6,508.4 151.9,517.4 152.2,525.4 152.5,533.5 152.8,541.7 153.1,549.8 153.3,557.9 153.4,566.0 153.5,574.1 153.6,582.2 153.7,590.6 153.8,599.1 153.8,607.3 153.9,614.6 153.9,618.9 154.0,622.8 154.1,626.5 154.2,630.0 154.4,632.9 154.6,635.6 154.9,638.3 155.2,641.2 155.6,645.0 155.9,649.1 156.3,653.3 156.8,657.4 157.3,661.5 157.8,665.7 158.4,669.8 159.1,673.6 159.7,676.7 160.4,679.6 161.2,682.4 162.0,684.9 162.7,686.8 163.4,688.5 164.2,690.1 165.2,691.4 166.2,692.3 167.4,693.0 168.7,693.5 170.1,693.8 172.3,693.8 174.7,693.4 177.2,692.9 179.8,692.7 182.6,692.9 185.4,693.4 188.3,694.0 191.1,694.7 194.0,695.6 196.8,696.6 199.7,697.6 202.5,698.7 205.3,699.8 208.0,700.9 210.9,701.9 213.8,702.8 217.3,703.6 220.9,704.2 224.6,704.7 228.4,705.2 232.3,705.6 236.3,706.0 240.4,706.2 244.6,706.5 249.5,706.7 254.5,706.9 259.6,707.1 265.0,707.3 271.4,707.6 278.0,707.9 285.0,708.1 292.3,708.4 304.3,708.7 318.4,708.9 330.1,709.1 335.0,709.2 335.0,485.5 151.0,485.5"/>
<polygon fill="#64ff96" points="156.0,487.5 156.0,490.7 156.1,498.6 156.2,508.4 156.3,517.4 156.4,525.4 156.5,533.5 156.7,541.7 156.8,549.8 156.9,557.9 157.1,566.0 157.2,574.1 157.4,582.2 157.6,590.7 157.9,599.4 158.1,607.6 158.4,614.6 158.5,618.2 158.7,621.4 158.8,624.2 159.1,627.0 159.4,629.0 159.7,630.9 160.0,632.8 160.4,634.7 160.8,637.1 161.3,639.5 161.8,642.0 162.3,644.4 162.7,646.5 163.2,648.6 163.7,650.6 164.4,652.5 165.2,654.3 166.2,656.0 167.3,657.6 168.5,659.0 169.6,660.1 170.7,661.1 171.9,661.9 173.3,662.6 175.4,663.2 177.9,663.5 180.4,663.7 183.0,663.9 185.8,664.2 188.7,664.5 191.6,664.8 194.4,665.2 196.9,665.8 199.3,666.4 201.6,667.2 204.1,667.9 206.8,668.7 209.6,669.5 212.5,670.4 215.4,671.2 218.5,672.1 221.7,672.9 225.0,673.7 228.4,674.4 232.4,675.0 236.6,675.6 240.8,676.1 244.6,676.5 247.3,676.8 249.7,677.1 252.2,677.3 255.0,677.6 259.8,678.1 265.2,678.8 271.1,679.3 277.7,679.8 292.9,680.2 311.9,680.2 328.1,680.2 335.0,680.1 335.0,485.5 156.0,485.5"/>
<polygon fill="#32ff00" points="164.9,487.5 165.0,491.0 165.4,499.3 165.9,509.2 166.5,517.4 167.0,521.8 167.5,525.8 168.0,529.7 168.5,533.6 168.9,537.6 169.3,541.7 169.7,545.7 170.1,549.8 170.5,553.8 170.9,557.9 171.3,561.9 171.7,566.0 172.0,570.0 172.3,574.1 172.6,578.2 173.0,582.2 173.4,586.3 173.8,590.3 174.3,594.4 174.9,598.4 175.5,602.5 176.2,606.7 177.0,610.8 177.9,614.6 178.8,617.6 179.9,620.4 181.0,623.1 182.2,625.5 183.1,627.2 184.1,628.7 185.1,630.1 186.3,631.5 187.8,633.2 189.4,634.9 191.1,636.5 192.8,638.0 194.3,639.2 195.9,640.2 197.5,641.1 199.2,642.0 201.5,642.8 203.9,643.5 206.5,644.1 209.0,644.8 211.4,645.5 213.8,646.2 216.2,647.0 218.7,647.7 221.8,648.5 225.0,649.4 228.3,650.2 231.6,650.9 234.9,651.6 238.2,652.2 241.4,652.8 244.6,653.3 247.2,653.8 249.7,654.2 252.2,654.6 255.0,655.0 259.3,655.5 264.1,655.9 269.1,656.3 274.4,656.6 281.3,656.9 288.6,657.1 296.1,657.2 303.6,657.4 312.8,657.6 323.2,657.9 331.5,658.1 335.0,658.2 335.0,485.5 164.9,485.5"/>
<polygon fill="#82ff00" points="172.0,487.5 172.1,491.0 172.2,499.3 172.5,509.2 172.8,517.4 173.1,521.8 173.4,525.8 173.7,529.7 174.1,533.6 174.5,537.7 174.9,541.7 175.3,545.8 175.7,549.8 176.1,553.9 176.5,557.9 176.9,562.0 177.4,566.0 177.9,570.1 178.3,574.1 178.9,578.2 179.5,582.2 180.2,586.3 181.0,590.4 182.0,594.5 183.0,598.4 184.1,601.8 185.2,605.2 186.5,608.4 187.9,611.4 189.4,614.1 191.0,616.6 192.7,619.0 194.4,621.1 195.7,622.6 197.0,623.9 198.4,625.0 200.0,626.0 202.6,626.8 205.7,627.2 209.0,627.4 212.2,627.8 215.4,628.3 218.7,628.9 221.9,629.6 225.2,630.2 228.4,630.9 231.6,631.7 234.8,632.4 238.1,633.1 241.7,633.7 245.4,634.2 249.1,634.6 252.7,635.0 255.8,635.3 258.7,635.5 261.7,635.8 265.0,636.0 269.9,636.4 275.3,636.8 281.1,637.2 287.4,637.6 300.3,638.1 316.0,638.4 329.4,638.7 335.0,638.8 335.0,485.5 172.0,485.5"/>
<polygon fill="#e1f50f" points="177.4,487.5 177.5,491.0 177.8,499.3 178.3,509.2 178.7,517.4 179.0,521.8 179.4,525.8 179.7,529.7 180.1,533.6 180.5,537.7 180.9,541.7 181.3,545.8 181.7,549.8 182.2,553.9 182.7,557.9 183.2,562.0 183.8,566.0 184.4,570.1 185.0,574.2 185.7,578.3 186.6,582.2 187.5,585.6 188.6,588.9 189.8,592.1 191.1,595.2 192.5,598.2 194.1,601.2 195.8,604.0 197.6,606.5 199.4,608.7 201.4,610.9 203.5,612.6 205.7,613.8 208.0,614.1 210.4,613.7 212.9,613.2 215.4,613.0 217.8,613.2 220.2,613.6 222.7,614.1 225.2,614.6 228.3,615.3 231.5,616.2 234.8,617.0 238.1,617.8 241.3,618.4 244.6,619.0 247.8,619.6 251.1,620.0 254.5,620.4 257.8,620.6 261.3,620.8 265.0,621.0 270.3,621.2 276.1,621.4 281.9,621.5 287.4,621.6 291.5,621.7 295.3,621.8 299.2,621.8 303.6,621.9 312.2,621.9 322.6,621.9 331.3,621.9 335.0,621.9 335.0,485.5 177.4,485.5"/>
<polygon fill="#ffff00" points="181.4,487.5 181.6,491.0 181.9,499.3 182.5,509.2 183.0,517.4 183.4,521.8 183.8,525.8 184.3,529.7 184.7,533.6 185.1,537.7 185.5,541.7 185.9,545.8 186.3,549.8 186.7,553.9 187.2,558.0 187.6,562.1 188.2,566.0 188.8,569.4 189.3,572.7 190.0,575.9 190.8,579.0 191.6,581.6 192.4,584.0 193.4,586.4 194.4,588.7 195.4,590.9 196.6,593.1 197.8,595.1 199.2,596.8 200.6,598.1 202.2,599.3 203.9,600.2 205.7,600.8 208.0,600.8 210.4,600.2 212.9,599.5 215.4,599.2 217.8,599.4 220.2,599.8 222.7,600.3 225.2,600.8 228.3,601.4 231.5,602.1 234.8,602.8 238.1,603.3 241.7,603.7 245.3,603.9 249.0,604.2 252.7,604.5 256.5,605.0 260.4,605.6 264.3,606.2 268.0,606.5 271.3,606.6 274.5,606.5 277.7,606.3 280.9,606.2 284.1,606.1 287.4,606.0 290.7,605.9 293.9,605.7 297.1,605.4 300.4,605.0 303.6,604.5 306.8,604.1 310.0,603.7 313.2,603.2 316.5,602.8 319.8,602.4 324.2,602.0 329.2,601.7 333.3,601.4 335.0,601.3 335.0,485.5 181.4,485.5"/>
<polygon fill="#ffe600" points="186.3,487.5 186.4,489.0 186.8,492.6 187.2,497.1 187.6,501.2 188.0,505.2 188.4,509.2 188.8,513.3 189.2,517.4 189.7,521.5 190.1,525.5 190.6,529.6 191.1,533.6 191.6,537.7 192.0,541.7 192.5,545.8 193.1,549.8 193.7,553.9 194.4,558.1 195.1,562.2 196.0,566.0 196.8,569.1 197.7,572.0 198.8,574.8 200.0,577.3 201.2,579.3 202.5,581.1 204.0,582.6 205.7,583.8 207.9,584.5 210.4,584.7 213.0,584.7 215.4,584.6 217.1,584.4 218.7,584.1 220.2,583.9 221.9,583.8 224.2,584.2 226.6,584.8 229.1,585.6 231.6,586.2 234.0,586.8 236.5,587.4 239.0,587.8 241.4,587.9 243.9,587.5 246.4,586.8 248.8,586.0 251.1,585.4 252.9,585.0 254.6,584.7 256.3,584.5 258.0,584.5 259.7,584.8 261.3,585.2 262.9,585.8 264.7,586.4 267.0,587.2 269.4,588.0 271.9,588.9 274.4,589.5 276.8,589.9 279.3,590.2 281.8,590.4 284.2,590.3 286.7,590.0 289.2,589.5 291.6,588.8 293.9,587.9 296.0,586.7 298.0,585.2 300.0,583.7 302.0,582.2 304.0,580.9 306.0,579.6 308.0,578.3 310.1,577.3 312.4,576.5 314.7,575.8 317.2,575.3 319.8,574.9 324.1,574.4 329.1,574.1 333.3,573.9 335.0,573.8 335.0,485.5 186.3,485.5"/>
<polygon fill="#ffc800" points="192.4,487.5 192.5,489.0 192.8,492.6 193.2,497.1 193.6,501.2 194.0,505.2 194.3,509.3 194.7,513.4 195.2,517.4 195.7,520.8 196.3,524.1 196.9,527.3 197.6,530.4 198.3,533.3 199.0,536.1 199.9,538.9 200.9,541.7 202.2,544.6 203.6,547.6 205.3,550.4 207.3,553.0 209.8,555.3 212.7,557.4 215.7,559.3 218.7,561.1 221.5,562.9 224.4,564.7 227.3,566.3 230.0,567.6 232.1,568.5 234.1,569.3 236.1,569.8 238.1,570.0 240.1,569.8 242.2,569.3 244.2,568.6 246.2,567.6 248.5,565.9 250.8,563.7 253.1,561.6 255.5,560.3 257.7,560.0 260.0,560.1 262.4,560.6 264.7,561.1 267.1,561.8 269.5,562.6 272.0,563.5 274.4,564.4 276.9,565.4 279.4,566.5 281.9,567.3 284.2,567.6 285.9,567.2 287.5,566.5 289.0,565.5 290.6,564.4 292.6,562.8 294.5,560.8 296.5,558.8 298.7,557.1 301.0,555.8 303.4,554.7 305.9,553.7 308.5,553.0 311.2,552.6 314.0,552.4 316.8,552.4 319.8,552.2 324.2,551.8 329.2,551.2 333.3,550.8 335.0,550.6 335.0,485.5 192.4,485.5"/>
<polygon fill="#ff8200" points="204.9,487.5 205.0,488.5 205.3,490.8 205.9,493.7 206.5,496.3 207.3,498.4 208.3,500.4 209.4,502.4 210.6,504.4 212.1,506.4 213.7,508.4 215.5,510.4 217.1,512.5 218.8,514.8 220.4,517.3 222.0,519.7 223.5,522.3 225.0,525.1 226.4,527.9 227.8,530.8 229.2,533.6 230.6,536.2 231.9,538.8 233.3,541.2 234.9,543.3 236.4,544.9 238.0,546.4 239.7,547.5 241.4,548.2 243.0,548.3 244.6,547.9 246.2,547.3 247.8,546.6 249.7,545.5 251.5,544.0 253.4,542.5 255.5,541.3 258.0,540.5 260.8,540.1 263.6,539.8 266.3,539.3 268.8,538.8 271.3,538.3 273.8,537.7 276.1,536.8 278.3,535.5 280.3,533.9 282.3,532.4 284.2,531.2 285.6,530.6 287.0,530.2 288.4,530.0 289.8,530.0 291.2,530.4 292.6,531.1 294.0,531.9 295.5,532.8 297.4,534.1 299.4,535.5 301.5,536.9 303.6,537.6 305.9,537.4 308.4,536.6 310.8,535.7 313.3,535.2 315.7,535.3 318.1,535.7 320.5,536.3 323.0,536.8 326.5,537.5 330.4,538.3 333.7,539.0 335.0,539.3 335.0,485.5 204.9,485.5"/>
<polygon fill="#ff6400" points="232.9,487.5 233.1,488.7 233.6,491.5 234.3,494.9 234.9,498.0 235.4,500.5 235.9,503.0 236.5,505.4 237.3,507.7 238.4,509.9 239.8,512.0 241.3,514.0 243.0,515.8 244.8,517.4 246.9,518.9 249.0,520.3 251.1,521.4 253.1,522.3 255.2,523.1 257.3,523.6 259.2,523.9 260.6,523.9 262.0,523.8 263.3,523.5 264.7,523.1 266.7,522.3 268.7,521.3 270.8,520.1 272.8,519.0 274.5,517.9 276.1,516.8 277.7,515.7 279.3,515.0 280.9,514.7 282.6,514.5 284.2,514.6 285.8,515.0 287.4,515.8 289.0,517.1 290.6,518.5 292.3,519.8 294.6,521.4 297.0,523.2 299.5,524.7 302.0,525.5 304.4,525.3 306.8,524.5 309.3,523.6 311.7,523.1 314.1,523.2 316.4,523.6 318.9,524.2 321.4,524.7 325.3,525.4 329.8,526.2 333.5,526.8 335.0,527.1 335.0,485.5 232.9,485.5"/>
<polygon fill="#ff2800" points="257.1,487.5 257.4,488.4 258.1,490.6 259.2,493.2 260.3,495.5 261.6,497.6 263.1,499.7 264.7,501.6 266.3,502.8 267.5,503.1 268.7,503.2 269.9,503.0 271.2,502.8 273.1,502.2 275.2,501.3 277.3,500.6 279.3,500.4 281.0,500.9 282.7,501.9 284.2,503.1 285.8,504.4 287.4,505.9 288.9,507.7 290.5,509.4 292.3,510.9 294.5,512.3 297.0,513.6 299.6,514.6 302.0,515.0 304.1,514.5 306.1,513.5 308.1,512.3 310.1,511.7 312.1,511.7 314.2,512.1 316.2,512.7 318.2,513.3 319.8,513.9 321.4,514.6 323.0,515.2 324.7,515.8 327.6,516.4 331.0,516.9 333.8,517.3 335.0,517.4 335.0,485.5 257.1,485.5"/>
<polygon fill="#ff0000" points="289.8,487.5 290.1,488.3 290.9,490.2 292.0,492.6 293.1,494.7 294.2,496.5 295.4,498.2 296.6,499.9 297.9,501.2 298.9,502.1 299.9,502.8 300.9,503.3 302.0,503.6 303.6,503.4 305.3,502.8 307.0,502.0 308.5,501.2 309.4,500.7 310.1,500.1 310.8,499.5 311.7,499.3 313.2,499.5 314.8,500.3 316.5,501.2 318.2,502.0 319.8,502.6 321.3,503.3 323.0,503.9 324.7,504.4 327.6,504.9 331.0,505.3 333.8,505.6 335.0,505.7 335.0,485.5 289.8,485.5"/>
</g>
<g clip-path="url(#cs3)">
<polygon fill="#96ffff" points="350.1,487.5 372.0,487.5 372.0,651.7 368.9,651.7 368.9,696.8 366.0,696.8 366.0,726.7 363.1,726.7 363.1,712.0 359.2,712.0 359.2,696.8 353.0,696.8 353.0,712.0 350.1,712.0"/>
<polygon fill="#64ff96" points="349.0,676.0 350.1,676.0 351.1,677.6 353.5,681.1 356.6,684.7 359.5,686.6 361.9,686.1 364.4,684.4 366.8,682.4 368.9,680.9 370.2,680.2 371.6,679.6 372.6,679.2 373.0,679.0 374.0,679.0 374.0,485.5 349.0,485.5"/>
<polygon fill="#32ff00" points="349.0,646.9 350.1,646.9 351.0,647.9 353.2,650.2 356.0,652.5 358.7,653.8 362.4,653.0 366.8,650.9 370.5,648.7 372.0,647.7 374.0,647.7 374.0,485.5 349.0,485.5"/>
<polygon fill="#82ff00" points="349.0,629.9 350.1,629.9 350.7,630.5 352.1,631.8 353.8,633.4 355.4,634.5 356.6,635.0 357.8,635.4 359.0,635.6 360.3,635.7 361.7,635.5 363.1,635.1 364.6,634.6 366.0,634.0 367.8,633.1 369.8,632.0 371.3,631.1 372.0,630.7 374.0,630.7 374.0,485.5 349.0,485.5"/>
<polygon fill="#e1f50f" points="349.0,614.6 350.1,614.6 350.6,615.4 352.0,617.3 353.7,619.5 355.4,621.1 356.9,621.8 358.5,622.3 360.2,622.5 361.9,622.7 363.6,622.8 365.3,622.8 366.9,622.7 368.4,622.4 369.6,621.9 370.7,621.2 371.6,620.6 372.0,620.3 374.0,620.3 374.0,485.5 349.0,485.5"/>
<polygon fill="#ffff00" points="349.0,603.3 350.1,603.3 350.6,604.0 352.0,605.7 353.7,607.5 355.4,608.9 356.9,609.6 358.6,610.1 360.3,610.4 361.9,610.5 363.2,610.3 364.4,609.9 365.6,609.5 366.8,609.4 368.3,609.8 370.0,610.4 371.4,611.1 372.0,611.4 374.0,611.4 374.0,485.5 349.0,485.5"/>
<polygon fill="#ffe600" points="349.0,590.3 350.1,590.3 350.7,590.9 352.1,592.2 353.8,593.8 355.4,595.2 356.6,596.2 357.8,597.2 359.0,598.0 360.3,598.4 361.5,598.2 362.8,597.6 364.0,597.0 365.2,596.8 366.0,597.0 366.8,597.5 367.6,598.0 368.4,598.4 369.4,598.7 370.6,599.0 371.6,599.1 372.0,599.2 374.0,599.2 374.0,485.5 349.0,485.5"/>
<polygon fill="#ffc800" points="349.0,577.3 350.1,577.3 350.6,578.1 352.0,579.9 353.7,582.1 355.4,583.8 356.9,585.0 358.6,586.1 360.3,586.9 361.9,587.1 363.6,586.4 365.3,585.0 366.9,583.4 368.4,582.2 369.5,581.6 370.7,581.1 371.6,580.7 372.0,580.6 374.0,580.6 374.0,485.5 349.0,485.5"/>
<polygon fill="#ff8200" points="349.0,564.4 350.1,564.4 350.6,565.1 352.0,566.9 353.7,569.1 355.4,570.9 357.0,572.5 358.7,574.1 360.4,575.3 361.9,575.7 363.3,574.9 364.6,573.3 365.7,571.2 366.8,569.2 367.8,566.9 368.6,564.4 369.3,561.9 370.0,559.5 370.6,557.5 371.3,555.4 371.8,553.7 372.0,553.0 374.0,553.0 374.0,485.5 349.0,485.5"/>
<polygon fill="#ff6400" points="349.0,549.8 350.1,549.8 350.6,550.8 352.0,553.3 353.7,556.3 355.4,558.7 357.0,560.6 358.7,562.5 360.4,564.0 361.9,564.4 363.4,563.2 364.6,560.8 365.8,557.7 366.8,554.7 367.8,550.9 368.7,546.8 369.3,542.5 370.0,538.5 370.7,534.5 371.3,530.3 371.8,526.9 372.0,525.5 374.0,525.5 374.0,485.5 349.0,485.5"/>
<polygon fill="#ff2800" points="349.0,533.6 350.1,533.6 350.6,534.8 352.0,537.5 353.7,540.7 355.4,543.3 356.8,544.9 358.3,546.5 359.8,547.6 361.1,547.9 362.4,546.5 363.5,543.8 364.4,540.3 365.2,536.8 366.2,532.3 367.0,527.4 367.7,522.3 368.4,517.4 369.0,513.2 369.5,509.1 369.9,505.1 370.3,501.2 370.6,497.1 371.0,492.6 371.2,489.0 371.3,487.5 349.0,485.5"/>
<polygon fill="#ff0000" points="349.0,516.6 350.1,516.6 350.5,517.0 351.5,517.9 352.8,519.1 354.0,520.0 355.1,520.8 356.3,521.6 357.6,522.2 358.7,522.3 360.0,521.5 361.3,519.9 362.5,517.9 363.5,515.8 364.5,512.6 365.1,508.9 365.6,505.0 366.0,501.2 366.4,497.1 366.8,492.6 367.0,489.0 367.1,487.5 349.0,485.5"/>
</g>
<polygon fill="#00d7ff" points="418.9,487.5 427.9,487.5 427.9,547.9 422.1,547.9 422.1,532.8 418.9,532.8"/>
<polygon fill="#0000ff" points="462.7,487.5 475.0,487.5 475.0,756.7 471.7,756.7 471.7,741.6 468.9,741.6 468.9,711.9 465.9,711.9 465.9,666.8 462.7,666.8"/>
<polygon fill="#00d7ff" points="462.7,600.7 466.9,604.6 472.7,610.4 475.0,612.7 475.0,663.0 474.0,662.0 469.3,657.4 465.5,651.7 462.7,648.0"/>
<defs><clipPath id="cm4"><path d="M546.9 487.5 L843.8 487.5 L843.8 756.7 L840.8 756.7 L840.8 801.9 L837.7 801.9 L837.7 831.7 L831.7 831.7 L831.7 846.9 L797.1 846.9 L797.1 831.7 L791.1 831.7 L791.1 817.0 L782.1 817.0 L782.1 831.7 L774.7 831.7 L774.7 846.9 L757.0 846.9 L757.0 831.7 L741.0 831.7 L741.0 817.0 L727.7 817.0 L727.7 831.7 L638.0 831.7 L638.0 846.9 L600.1 846.9 L600.1 831.7 L585.3 831.7 L585.3 817.0 L582.0 817.0 L582.0 801.9 L575.1 801.9 L575.1 786.9 L565.9 786.9 L565.9 801.9 L562.8 801.9 L562.8 817.0 L556.9 817.0 L556.9 801.9 L553.5 801.9 L553.5 771.7 L550.0 771.7 L550.0 726.8 L546.9 726.8Z"/></clipPath></defs>
<g clip-path="url(#cm4)">
<polygon fill="#0064ff" points="546.9,487.5 843.8,487.5 843.8,756.7 840.8,756.7 840.8,801.9 837.7,801.9 837.7,831.7 831.7,831.7 831.7,846.9 797.1,846.9 797.1,831.7 791.1,831.7 791.1,817.0 782.1,817.0 782.1,831.7 774.7,831.7 774.7,846.9 757.0,846.9 757.0,831.7 741.0,831.7 741.0,817.0 727.7,817.0 727.7,831.7 638.0,831.7 638.0,846.9 600.1,846.9 600.1,831.7 585.3,831.7 585.3,817.0 582.0,817.0 582.0,801.9 575.1,801.9 575.1,786.9 565.9,786.9 565.9,801.9 562.8,801.9 562.8,817.0 556.9,817.0 556.9,801.9 553.5,801.9 553.5,771.7 550.0,771.7 550.0,726.8 546.9,726.8"/>
<polygon fill="#0000ff" points="546.8,487.5 570.8,487.5 571.1,517.4 571.6,549.8 570.8,564.4 568.8,570.9 564.3,566.0 559.4,562.0 555.4,560.8 552.6,564.4 550.5,572.5 548.1,585.4 546.8,596.8"/>
<polygon fill="#19ffff" points="574.8,487.5 574.9,490.7 575.1,498.6 575.3,508.4 575.6,517.4 575.9,525.4 576.3,533.5 576.7,541.7 576.9,549.8 577.0,557.9 577.0,566.0 576.9,574.1 576.9,582.2 576.9,590.2 576.9,598.2 576.9,606.3 576.9,614.6 577.0,624.5 577.3,635.2 577.3,644.9 576.9,652.2 576.6,654.2 576.1,655.8 575.7,657.2 575.2,658.7 574.6,660.5 574.0,662.4 573.5,664.4 573.0,666.5 572.7,669.8 572.5,673.4 572.5,677.1 572.4,680.7 572.3,684.0 572.3,687.3 572.2,690.6 572.1,693.7 571.9,696.4 571.6,699.0 571.4,701.6 571.1,704.0 570.8,705.9 570.5,707.6 570.2,709.3 570.2,711.2 570.7,713.8 571.7,716.6 572.7,719.5 573.7,722.5 574.6,726.2 575.4,730.1 576.2,734.1 577.1,738.0 578.1,742.0 579.1,746.0 580.2,750.0 581.5,753.6 582.7,756.4 583.9,759.0 585.2,761.5 586.7,763.9 588.3,766.2 590.0,768.5 591.8,770.7 593.6,772.6 595.3,774.2 597.0,775.8 598.8,777.1 600.5,777.8 601.8,777.9 603.1,777.8 604.4,777.4 605.7,776.9 607.7,775.7 609.9,774.1 612.1,772.3 614.3,770.8 616.4,769.6 618.5,768.4 620.6,767.4 622.9,766.5 625.6,765.7 628.5,765.1 631.6,764.7 635.0,764.3 640.7,763.9 647.0,763.6 653.8,763.5 660.9,763.4 669.8,763.3 679.1,763.2 689.1,763.2 700.0,763.1 717.7,762.9 737.7,762.5 757.9,762.2 776.4,761.9 789.9,761.8 802.9,761.8 814.8,761.7 824.8,761.3 829.6,760.9 833.8,760.5 837.5,760.0 840.8,759.6 842.8,759.4 844.9,759.2 846.4,759.1 847.0,759.0 847.0,485.5 574.8,485.5"/>
<polygon fill="#64ffff" points="580.2,487.5 580.3,490.7 580.6,498.6 580.9,508.4 581.3,517.4 581.7,525.4 582.1,533.4 582.5,541.6 582.9,549.8 583.3,558.6 583.6,567.5 583.9,576.4 584.2,585.0 584.4,592.7 584.6,600.3 584.9,607.8 585.2,615.0 585.6,621.5 586.0,627.8 586.4,634.0 587.0,640.0 587.6,645.6 588.3,651.1 589.1,656.4 589.9,661.3 590.6,664.8 591.4,668.0 592.2,671.1 593.1,674.2 594.2,677.5 595.3,680.9 596.5,684.1 597.7,687.2 598.7,689.6 599.7,692.0 600.6,694.2 601.6,696.3 602.3,698.1 603.1,699.8 603.8,701.3 604.8,702.7 605.9,703.8 607.1,704.7 608.5,705.4 610.0,706.0 612.3,706.4 614.8,706.4 617.5,706.2 620.3,706.0 623.5,705.8 626.8,705.4 630.1,705.1 633.3,704.7 635.9,704.4 638.4,704.0 641.0,703.7 643.7,703.4 647.5,703.2 651.6,703.0 655.9,703.0 660.0,703.0 663.9,703.2 667.8,703.5 671.7,703.9 675.9,704.2 681.5,704.5 687.4,704.8 693.6,705.0 700.0,705.2 708.1,705.4 716.8,705.6 725.3,705.6 733.2,705.5 739.0,705.2 744.5,704.9 749.5,704.5 753.7,704.0 755.5,703.8 756.9,703.5 758.4,703.2 760.0,702.9 762.9,702.3 766.2,701.6 769.6,700.9 773.0,700.3 776.2,699.7 779.3,699.2 782.5,698.8 785.9,698.4 790.6,698.1 795.6,697.9 800.7,697.8 805.4,697.7 808.9,697.6 812.2,697.6 815.4,697.5 818.3,697.1 820.5,696.6 822.5,696.1 824.4,695.4 826.1,694.5 827.5,693.5 828.7,692.2 829.9,691.0 831.3,690.0 832.8,689.3 834.4,688.7 836.1,688.3 837.8,688.0 840.4,688.0 843.4,688.2 846.0,688.5 847.0,688.7 847.0,485.5 580.2,485.5"/>
<polygon fill="#64ff96" points="585.0,487.5 585.2,490.7 585.7,498.6 586.4,508.4 587.0,517.4 587.6,525.4 588.2,533.4 588.9,541.6 589.4,549.8 589.8,558.5 590.1,567.5 590.4,576.3 590.8,585.0 591.3,593.0 591.8,601.0 592.4,608.7 593.1,615.9 593.8,621.1 594.7,626.0 595.5,630.7 596.4,635.4 597.2,639.8 598.0,644.1 598.8,648.3 599.6,652.2 600.3,655.3 601.1,658.3 601.9,661.2 602.8,663.9 603.6,666.3 604.5,668.7 605.5,670.9 606.7,672.9 608.0,674.5 609.3,675.8 610.9,677.1 612.6,678.1 615.0,679.1 617.7,679.8 620.4,680.3 622.9,680.7 624.6,681.0 626.2,681.3 627.7,681.4 629.4,681.4 631.6,681.1 633.9,680.6 636.2,680.0 638.5,679.4 640.7,678.8 643.0,678.2 645.2,677.6 647.6,677.1 650.5,676.7 653.6,676.5 656.7,676.3 660.0,676.2 663.9,676.1 667.9,676.2 672.0,676.3 675.9,676.4 679.3,676.6 682.6,676.8 685.8,677.1 688.9,677.3 691.2,677.5 693.3,677.7 695.5,677.9 697.9,678.0 701.8,678.0 706.2,678.0 710.6,677.8 714.8,677.7 718.2,677.6 721.4,677.4 724.6,677.2 727.8,677.0 731.0,676.7 734.3,676.4 737.5,676.1 740.7,675.7 744.1,675.3 747.5,675.0 750.8,674.6 753.7,674.2 755.4,674.0 756.9,673.7 758.3,673.5 760.0,673.1 762.9,672.3 766.2,671.4 769.7,670.3 773.0,669.2 776.2,667.9 779.4,666.6 782.7,665.2 785.9,664.0 789.2,663.0 792.6,662.2 795.9,661.5 798.9,660.8 801.0,660.4 803.0,660.1 804.9,659.6 806.7,658.9 808.5,657.6 810.1,656.0 811.6,654.2 813.1,652.4 814.5,650.6 815.9,648.7 817.1,646.7 818.3,644.6 819.4,642.1 820.4,639.5 821.3,636.9 822.2,634.2 823.0,631.5 823.7,628.8 824.5,626.2 825.4,623.9 826.1,622.4 826.9,620.9 827.8,619.7 828.7,619.0 829.5,618.8 830.3,618.7 831.1,618.9 831.9,619.3 833.1,620.5 834.2,622.4 835.3,624.5 836.5,626.5 837.7,628.4 838.9,630.4 840.2,632.2 841.6,633.6 843.1,634.3 844.9,634.7 846.4,634.9 847.0,635.0 847.0,485.5 585.0,485.5"/>
<polygon fill="#19ff32" points="589.9,487.5 590.1,490.7 590.7,498.6 591.5,508.4 592.2,517.4 593.0,525.4 593.8,533.6 594.6,541.7 595.4,549.8 596.0,557.5 596.6,565.2 597.2,572.8 597.8,580.0 598.4,586.0 599.0,591.8 599.6,597.5 600.3,603.0 601.0,608.0 601.9,612.9 602.7,617.7 603.5,622.4 604.2,626.5 604.8,630.5 605.4,634.3 606.1,637.9 606.6,640.7 607.2,643.4 607.8,646.0 608.7,648.3 609.7,650.1 611.0,651.8 612.3,653.4 613.9,654.8 615.9,656.3 618.2,657.6 620.6,658.8 622.9,660.0 624.9,661.2 626.8,662.3 628.8,663.3 630.7,663.9 632.3,664.0 633.9,663.9 635.5,663.6 637.2,663.2 639.4,662.7 641.7,662.0 644.0,661.2 646.3,660.6 648.5,660.1 650.7,659.6 652.9,659.2 655.0,658.7 657.0,658.2 658.9,657.7 660.9,657.3 663.0,656.9 666.0,656.6 669.2,656.4 672.6,656.4 675.9,656.3 679.1,656.3 682.4,656.4 685.7,656.4 688.9,656.5 692.1,656.5 695.4,656.5 698.6,656.5 701.8,656.5 705.0,656.4 708.3,656.3 711.5,656.1 714.8,656.0 718.1,655.9 721.3,655.9 724.6,655.9 727.8,655.6 731.0,655.1 734.3,654.5 737.5,653.7 740.7,653.0 744.0,652.2 747.4,651.4 750.7,650.6 753.7,649.8 755.9,649.2 757.9,648.6 759.9,648.0 762.0,647.5 764.6,646.9 767.3,646.4 770.2,645.9 773.0,645.3 776.1,644.6 779.4,643.9 782.6,643.2 785.9,642.7 789.3,642.5 792.7,642.6 796.0,642.5 798.9,642.0 800.8,641.2 802.4,640.1 803.9,638.9 805.4,637.5 807.1,635.7 808.8,633.6 810.3,631.4 811.8,629.1 813.3,626.4 814.6,623.5 815.8,620.4 817.0,617.4 818.1,614.1 819.2,610.7 820.1,607.4 820.9,604.4 821.4,602.4 821.8,600.6 822.1,598.8 822.5,597.0 822.9,595.1 823.4,593.2 823.9,591.1 824.3,588.7 825.0,583.4 825.7,577.0 826.3,570.0 826.9,562.8 827.4,553.3 827.7,543.0 828.1,532.9 828.6,523.9 829.1,518.5 829.7,513.6 830.2,509.0 830.8,504.4 831.4,499.3 832.1,493.8 832.6,489.3 832.8,487.5 832.8,485.5 589.9,485.5"/>
<polygon fill="#32ff00" points="595.0,487.5 595.2,491.1 595.9,499.8 596.6,510.7 597.4,520.6 598.1,529.5 598.9,538.6 599.7,547.6 600.5,556.3 601.1,564.3 601.8,572.3 602.4,579.6 603.0,585.0 603.3,586.5 603.5,587.6 603.8,588.7 604.1,590.0 604.7,592.8 605.3,596.1 606.0,599.6 606.7,603.0 607.3,606.3 607.9,609.6 608.5,612.8 609.3,615.9 610.1,618.6 611.0,621.3 612.1,623.8 613.2,626.3 614.5,628.7 615.9,631.0 617.4,633.3 619.0,635.4 620.8,637.5 622.8,639.5 624.8,641.3 626.8,643.1 628.4,644.6 630.1,646.0 631.7,647.3 633.3,648.3 634.6,648.9 635.8,649.3 637.1,649.5 638.5,649.6 640.6,649.4 642.9,648.9 645.3,648.3 647.6,647.7 649.5,647.3 651.3,646.9 653.2,646.5 655.0,646.0 656.9,645.4 658.9,644.7 660.9,644.0 663.0,643.3 666.0,642.5 669.2,641.6 672.6,640.8 675.9,640.1 679.1,639.5 682.4,639.1 685.6,638.7 688.9,638.4 692.1,638.2 695.3,638.1 698.6,638.0 701.8,637.9 705.0,637.7 708.3,637.6 711.5,637.4 714.8,637.2 718.1,637.1 721.4,637.0 724.7,636.7 727.8,636.2 730.5,635.3 733.1,634.2 735.6,632.9 738.1,631.7 740.4,630.5 742.7,629.3 744.9,628.1 747.2,627.1 749.5,626.4 751.8,625.9 754.1,625.5 756.3,625.2 758.3,625.1 760.2,625.1 762.1,625.2 764.0,625.4 766.2,625.7 768.4,626.2 770.6,626.6 773.0,627.1 776.1,627.6 779.4,628.2 782.8,628.7 785.9,629.1 788.3,629.4 790.7,629.8 792.9,629.9 795.0,629.7 796.8,629.1 798.4,628.2 800.0,627.1 801.5,625.8 803.3,623.8 804.9,621.4 806.5,618.8 807.9,616.1 809.4,613.0 810.8,609.8 812.0,606.5 813.1,603.1 814.0,599.7 814.7,596.2 815.3,592.6 815.9,588.7 816.8,582.9 817.6,576.6 818.4,569.8 819.2,562.8 820.0,553.6 820.8,543.8 821.5,533.7 822.4,523.9 823.6,513.0 825.1,501.1 826.4,491.5 826.9,487.5 826.9,485.5 595.0,485.5"/>
<polygon fill="#c8ff00" points="601.9,487.5 602.2,491.1 603.0,499.8 603.9,510.7 604.8,520.6 605.7,529.6 606.6,538.8 607.5,547.9 608.4,556.3 609.1,562.8 609.7,569.1 610.4,574.9 611.1,580.0 611.5,582.8 611.9,585.2 612.4,587.5 613.0,590.0 614.0,593.2 615.1,596.4 616.4,599.7 617.8,603.0 619.3,606.3 620.9,609.6 622.6,612.8 624.2,615.9 625.5,618.6 626.9,621.3 628.1,623.9 629.4,626.3 630.3,628.1 631.2,629.8 632.2,631.4 633.3,632.8 634.5,633.9 635.7,635.0 637.1,635.8 638.5,636.4 640.0,636.7 641.6,636.7 643.3,636.6 645.0,636.4 646.9,636.1 648.9,635.8 650.9,635.3 652.7,634.9 654.0,634.6 655.2,634.3 656.4,634.0 657.8,633.6 660.4,632.7 663.3,631.5 666.4,630.3 669.4,629.1 672.1,628.0 674.6,626.9 677.3,625.9 680.0,625.0 683.1,624.2 686.4,623.4 689.7,622.8 693.0,622.3 696.2,621.9 699.5,621.6 702.7,621.4 705.9,621.2 708.9,621.1 711.9,621.1 714.8,620.9 717.5,620.4 719.6,619.6 721.5,618.5 723.4,617.3 725.3,616.1 727.3,614.9 729.4,613.6 731.5,612.4 733.5,611.2 735.3,610.2 737.1,609.3 738.9,608.4 740.7,607.7 742.6,607.1 744.6,606.5 746.6,606.0 748.5,605.7 750.3,605.5 752.0,605.4 753.8,605.4 755.5,605.5 757.3,605.7 759.0,606.0 760.8,606.4 762.5,607.0 764.5,608.1 766.4,609.5 768.4,611.0 770.5,612.3 773.0,613.4 775.6,614.3 778.2,615.1 780.9,615.8 783.7,616.5 786.6,617.0 789.4,617.4 791.8,617.4 793.3,617.2 794.6,616.8 795.8,616.2 797.0,615.5 798.2,614.5 799.4,613.2 800.5,611.7 801.5,610.0 802.9,607.1 804.3,603.5 805.6,599.9 806.7,596.7 807.5,594.7 808.1,592.9 808.8,591.0 809.4,588.7 810.6,583.4 811.8,577.0 812.9,570.0 814.0,562.8 815.1,553.6 816.0,543.8 816.9,533.7 817.9,523.9 819.1,513.0 820.5,501.1 821.6,491.5 822.1,487.5 822.1,485.5 601.9,485.5"/>
<polygon fill="#e1f50f" points="608.1,487.5 608.5,491.1 609.5,499.8 610.8,510.7 612.0,520.6 613.2,529.6 614.6,538.8 616.0,547.9 617.3,556.3 618.4,562.8 619.5,569.1 620.5,574.9 621.5,580.0 622.1,582.8 622.6,585.2 623.1,587.5 623.8,590.0 624.7,593.2 625.8,596.5 626.9,599.8 628.1,603.0 629.3,605.7 630.6,608.4 631.9,610.9 633.3,613.3 634.5,615.4 635.7,617.5 637.0,619.4 638.5,621.1 640.0,622.4 641.6,623.5 643.3,624.4 645.0,625.0 646.9,625.2 648.9,625.0 650.9,624.7 652.7,624.3 654.0,624.0 655.2,623.6 656.4,623.1 657.8,622.6 660.4,621.5 663.3,620.2 666.4,618.8 669.4,617.4 672.3,615.9 675.1,614.4 678.0,612.9 681.0,611.5 684.2,610.2 687.5,608.9 690.8,607.7 694.0,606.7 697.0,605.8 700.0,605.0 702.9,604.4 705.8,603.8 708.3,603.5 710.8,603.4 713.2,603.3 715.5,602.8 717.5,602.0 719.4,600.9 721.3,599.7 723.3,598.6 725.8,597.4 728.3,596.1 731.0,595.0 733.6,594.0 736.2,593.3 738.8,592.7 741.4,592.2 744.0,591.8 746.6,591.5 749.3,591.3 752.0,591.2 754.5,591.3 756.7,591.5 758.9,591.9 760.9,592.5 763.0,593.3 765.2,594.7 767.4,596.6 769.6,598.5 771.8,600.2 774.0,601.5 776.2,602.7 778.5,603.7 780.9,604.5 783.5,605.1 786.2,605.4 788.8,605.5 791.2,605.1 793.1,604.3 794.8,603.2 796.3,601.8 797.8,600.3 799.3,598.2 800.6,595.8 801.7,593.4 802.8,591.5 803.4,590.8 803.9,590.2 804.4,589.6 804.9,588.7 806.2,584.2 807.3,577.8 808.4,570.3 809.4,562.8 810.6,553.6 811.8,543.8 812.9,533.7 814.0,523.9 815.2,513.0 816.5,501.1 817.5,491.5 817.9,487.5 817.9,485.5 608.1,485.5"/>
<polygon fill="#ffff00" points="614.9,487.5 615.4,491.1 616.6,499.8 618.2,510.7 619.7,520.6 621.1,529.6 622.6,538.8 624.2,547.9 625.6,556.3 626.8,562.8 627.9,569.1 629.0,574.9 629.8,580.0 630.1,582.8 630.3,585.3 630.6,587.7 631.0,590.0 631.7,592.3 632.6,594.7 633.6,596.9 634.6,599.1 635.5,601.1 636.4,603.1 637.4,605.0 638.5,606.8 639.7,608.3 640.9,609.7 642.3,611.0 643.7,612.0 645.2,612.8 646.8,613.4 648.4,613.8 650.1,614.0 651.9,614.0 653.8,613.8 655.8,613.4 657.8,612.9 660.6,611.9 663.5,610.6 666.5,609.2 669.4,607.7 672.1,606.3 674.7,604.8 677.3,603.3 680.0,601.8 683.2,600.1 686.5,598.5 689.8,596.9 693.0,595.4 695.7,594.2 698.4,593.0 701.0,592.0 703.3,591.5 704.6,591.4 705.8,591.5 706.9,591.8 708.0,592.0 709.1,592.4 710.2,592.9 711.3,593.3 712.4,593.4 714.0,592.8 715.6,591.5 717.2,590.1 718.9,588.9 720.4,588.0 722.0,587.1 723.6,586.3 725.4,585.6 728.3,585.0 731.6,584.6 735.1,584.2 738.3,583.7 741.0,582.9 743.7,582.0 746.3,581.1 748.7,580.5 750.4,580.2 752.0,580.0 753.6,579.9 755.2,580.1 757.1,580.6 759.1,581.5 761.0,582.5 762.9,583.7 764.9,585.2 766.9,587.0 768.8,588.7 770.7,590.2 772.0,591.1 773.2,591.9 774.5,592.5 775.9,593.0 777.7,593.3 779.7,593.4 781.8,593.4 783.7,593.5 785.4,593.7 787.0,594.0 788.6,594.1 790.1,594.1 791.5,593.9 792.9,593.5 794.2,592.9 795.3,592.1 796.2,590.9 796.8,589.4 797.3,587.8 797.9,586.3 798.5,585.3 799.2,584.4 799.8,583.5 800.4,582.2 801.5,578.5 802.5,573.6 803.4,568.2 804.3,562.8 805.3,556.6 806.3,550.0 807.2,543.4 808.1,536.8 809.0,530.3 809.8,523.8 810.6,517.3 811.4,510.9 812.2,503.9 813.1,496.2 813.7,490.0 814.0,487.5 814.0,485.5 614.9,485.5"/>
<polygon fill="#ffe600" points="621.1,487.5 621.5,491.1 622.6,499.8 624.0,510.7 625.4,520.6 626.8,529.6 628.3,538.8 629.8,547.9 631.3,556.3 632.5,562.8 633.6,569.1 634.7,574.9 635.7,580.0 636.2,582.9 636.5,585.5 637.0,587.9 637.8,590.0 638.8,591.5 639.9,592.8 641.2,594.0 642.4,595.2 643.6,596.6 644.9,598.0 646.2,599.3 647.6,600.4 649.1,601.3 650.7,602.1 652.4,602.6 654.0,603.0 655.5,603.1 656.9,603.0 658.4,602.7 660.0,602.3 662.2,601.5 664.6,600.5 667.0,599.3 669.4,598.0 672.0,596.3 674.6,594.4 677.3,592.5 680.0,591.0 682.5,590.1 685.1,589.4 687.7,588.8 690.4,588.0 693.6,586.7 696.9,585.3 700.1,583.8 703.3,582.5 706.1,581.6 708.8,580.8 711.4,580.1 713.7,579.2 715.2,578.4 716.5,577.4 717.7,576.5 718.9,575.9 719.9,575.6 720.8,575.4 721.8,575.3 722.8,575.3 724.3,575.5 725.8,576.0 727.5,576.4 729.2,576.6 731.4,576.3 733.7,575.7 736.0,574.8 738.3,574.0 740.6,573.0 742.9,571.9 745.2,570.9 747.4,570.1 749.4,569.6 751.4,569.3 753.3,569.2 755.2,569.4 756.9,569.9 758.5,570.6 760.0,571.6 761.6,572.7 763.6,574.5 765.5,576.6 767.4,578.7 769.4,580.5 771.0,581.7 772.6,582.8 774.3,583.6 775.9,584.0 777.5,583.8 779.1,583.2 780.8,582.5 782.4,581.7 784.1,581.0 785.8,580.3 787.4,579.5 788.9,578.5 790.3,577.3 791.7,575.9 792.9,574.4 794.0,572.7 795.2,570.5 796.2,568.0 797.1,565.5 797.9,563.0 798.5,560.8 799.0,558.6 799.5,556.4 800.0,553.9 800.7,550.1 801.5,545.9 802.2,541.5 803.0,536.8 804.0,530.7 805.0,524.1 805.9,517.4 806.8,510.9 807.6,503.9 808.5,496.2 809.1,490.0 809.4,487.5 809.4,485.5 621.1,485.5"/>
<polygon fill="#ffc800" points="627.1,487.5 627.5,491.1 628.6,499.8 629.9,510.7 631.3,520.6 632.7,529.7 634.3,539.1 635.9,548.2 637.3,556.3 638.1,561.3 638.8,566.0 639.5,570.2 640.5,574.1 641.3,576.8 642.2,579.3 643.3,581.5 644.6,583.6 646.1,585.4 647.9,587.0 649.8,588.4 651.8,589.5 654.0,590.2 656.4,590.6 658.9,590.8 661.3,590.7 663.7,590.4 666.1,589.8 668.5,589.1 670.8,588.3 673.1,587.3 675.4,586.2 677.7,585.1 680.0,584.0 682.6,583.1 685.2,582.3 687.9,581.4 690.4,580.5 692.7,579.4 694.9,578.3 697.1,577.1 699.4,575.9 702.0,574.6 704.6,573.2 707.3,571.8 709.8,570.7 711.8,569.8 713.8,569.0 715.7,568.4 717.6,568.1 719.2,568.2 720.8,568.6 722.4,569.1 724.1,569.4 726.0,569.6 727.9,569.7 729.9,569.7 731.8,569.4 733.8,568.7 735.7,567.7 737.7,566.6 739.6,565.5 741.5,564.3 743.5,563.1 745.4,561.9 747.4,561.0 749.3,560.4 751.3,559.9 753.3,559.7 755.2,559.7 756.9,560.0 758.5,560.6 760.1,561.4 761.6,562.3 763.3,563.7 764.9,565.4 766.5,567.2 768.1,568.8 769.7,570.2 771.3,571.6 773.0,572.7 774.6,573.3 775.9,573.3 777.2,572.9 778.5,572.2 779.8,571.4 781.5,570.0 783.1,568.2 784.8,566.2 786.3,564.3 787.7,562.7 789.0,561.1 790.3,559.5 791.4,557.8 792.3,556.0 793.1,554.1 793.8,552.1 794.5,549.8 795.7,545.6 796.9,540.7 798.1,535.5 799.1,530.4 800.0,525.6 800.8,520.8 801.6,515.9 802.3,510.9 803.1,504.1 804.0,496.4 804.6,490.1 804.9,487.5 804.9,485.5 627.1,485.5"/>
<polygon fill="#ff8200" points="632.2,487.5 632.5,489.8 633.2,495.4 634.0,502.4 634.9,508.8 635.8,514.7 636.7,520.8 637.7,526.8 638.7,532.5 639.5,537.2 640.4,541.8 641.3,546.2 642.3,550.3 643.2,553.5 644.2,556.6 645.2,559.5 646.4,562.2 647.6,564.5 648.9,566.7 650.3,568.7 651.8,570.5 653.2,572.0 654.6,573.3 656.1,574.4 657.7,575.3 659.6,575.9 661.7,576.2 663.8,576.2 666.0,576.2 668.4,576.0 670.9,575.6 673.4,575.1 675.5,574.7 676.7,574.5 677.7,574.4 678.8,574.2 680.0,574.0 682.3,573.5 684.9,572.9 687.7,572.1 690.4,571.4 693.0,570.7 695.6,569.9 698.2,569.0 700.7,568.1 703.0,567.0 705.3,565.8 707.6,564.6 709.8,563.6 711.8,562.8 713.8,561.9 715.7,561.3 717.6,561.0 719.2,561.1 720.8,561.5 722.4,561.9 724.1,562.3 726.0,562.6 728.0,563.0 729.9,563.2 731.8,563.0 733.5,562.4 735.1,561.4 736.7,560.3 738.3,559.1 740.0,557.8 741.6,556.5 743.2,555.1 744.8,553.9 746.1,553.0 747.4,552.2 748.7,551.5 750.0,551.0 751.2,550.8 752.5,550.7 753.8,550.7 755.0,550.9 756.3,551.2 757.6,551.6 758.8,552.1 760.1,552.7 761.6,553.7 763.1,555.0 764.6,556.3 766.0,557.5 767.2,558.5 768.4,559.6 769.6,560.5 770.8,561.2 772.0,561.7 773.3,562.0 774.5,562.2 775.7,562.0 776.9,561.3 777.9,560.3 779.0,559.0 780.0,557.6 781.3,555.8 782.6,553.7 783.8,551.5 785.0,549.2 786.3,546.4 787.5,543.5 788.7,540.4 789.8,537.3 790.9,534.1 791.8,530.7 792.8,527.4 793.6,524.0 794.4,520.6 795.1,517.2 795.7,513.8 796.4,510.0 797.4,503.7 798.4,496.3 799.2,490.1 799.5,487.5 799.5,485.5 632.2,485.5"/>
<polygon fill="#ff6400" points="638.9,487.5 639.3,489.9 640.1,495.6 641.3,502.6 642.3,508.8 643.1,513.4 644.0,517.9 644.8,522.3 645.8,526.6 646.8,530.6 647.8,534.6 648.9,538.5 650.0,542.0 650.9,544.6 651.9,547.1 652.9,549.4 654.1,551.5 655.4,553.4 656.8,555.2 658.4,556.8 660.1,558.1 662.0,559.1 664.0,559.8 666.2,560.4 668.4,561.0 671.2,561.7 674.3,562.3 677.4,562.8 680.3,563.4 682.8,564.0 685.2,564.6 687.5,565.2 689.8,565.8 691.7,566.4 693.6,567.0 695.4,567.5 697.1,567.6 698.7,567.2 700.2,566.5 701.7,565.6 703.1,564.6 704.7,563.3 706.1,561.8 707.6,560.1 709.0,558.6 710.2,557.2 711.4,555.8 712.6,554.5 713.8,553.3 714.9,552.2 716.1,551.1 717.3,550.2 718.5,549.7 719.7,549.7 720.9,550.0 722.1,550.4 723.3,550.9 724.5,551.5 725.6,552.2 726.8,552.9 728.0,553.3 729.4,553.5 731.0,553.4 732.5,553.1 734.0,552.7 735.5,551.9 737.0,550.9 738.5,549.7 739.9,548.6 741.4,547.4 742.8,546.2 744.3,544.9 745.8,543.8 747.3,542.8 748.8,541.7 750.3,540.9 751.8,540.2 753.3,539.8 754.8,539.5 756.2,539.4 757.7,539.6 759.3,540.2 760.8,541.1 762.3,542.1 763.7,543.2 764.9,544.3 766.1,545.4 767.2,546.5 768.4,547.4 769.6,548.1 770.8,548.7 772.0,549.1 773.2,549.2 774.1,549.0 775.0,548.7 775.9,548.1 776.7,547.4 778.0,545.5 779.3,542.9 780.4,540.1 781.5,537.3 782.5,534.7 783.4,532.1 784.2,529.4 785.0,526.6 786.0,522.9 786.9,519.0 787.8,515.0 788.6,511.1 789.3,507.4 789.9,503.8 790.5,500.2 791.0,496.9 791.5,494.0 791.9,490.9 792.3,488.5 792.4,487.5 792.4,485.5 638.9,485.5"/>
<polygon fill="#ff2800" points="646.8,487.5 647.1,489.2 647.7,493.2 648.6,498.3 649.4,502.8 650.2,506.7 651.1,510.7 652.0,514.6 653.0,518.3 653.8,521.4 654.7,524.4 655.6,527.3 656.5,530.1 657.3,532.4 658.1,534.7 659.0,536.8 660.1,538.5 661.1,539.6 662.3,540.5 663.5,541.3 664.8,542.0 666.2,542.7 667.7,543.2 669.2,543.8 670.8,544.4 672.5,545.2 674.3,546.1 676.0,547.0 677.9,548.0 680.3,549.2 683.0,550.4 685.4,551.6 687.4,552.7 688.2,553.3 688.7,553.9 689.3,554.5 690.0,555.1 691.3,555.9 692.8,556.7 694.4,557.4 695.9,557.7 697.1,557.6 698.4,557.3 699.5,556.9 700.7,556.3 701.9,555.6 703.1,554.7 704.3,553.7 705.4,552.7 706.5,551.6 707.6,550.5 708.7,549.3 709.6,548.0 710.5,546.4 711.3,544.6 712.0,542.8 712.6,540.8 713.3,538.3 713.8,535.6 714.4,532.8 714.9,530.1 715.5,527.3 716.0,524.5 716.6,521.8 717.3,519.4 717.9,517.7 718.5,516.0 719.1,514.6 719.7,514.1 720.3,514.6 721.0,516.0 721.6,517.7 722.1,519.4 722.6,521.6 723.0,524.2 723.4,526.7 723.9,529.0 724.4,530.6 724.9,532.1 725.5,533.5 726.2,534.9 727.1,536.4 728.1,538.0 729.2,539.3 730.4,540.2 731.5,540.6 732.7,540.7 733.9,540.5 735.1,540.2 736.6,539.3 738.1,538.0 739.6,536.4 741.1,534.9 742.6,533.4 744.0,531.9 745.5,530.4 747.0,529.0 748.4,527.8 749.9,526.6 751.4,525.6 753.0,524.8 754.7,524.2 756.5,523.9 758.3,523.6 760.1,523.6 761.6,523.7 763.1,524.1 764.5,524.4 766.0,524.8 767.5,525.2 769.1,525.8 770.6,526.1 772.0,526.0 773.4,525.2 774.6,523.9 775.7,522.3 776.7,520.6 777.7,518.5 778.4,516.1 779.1,513.6 779.7,511.1 780.3,508.3 780.8,505.3 781.3,502.3 781.7,499.3 782.1,495.8 782.4,491.9 782.6,488.8 782.7,487.5 782.7,485.5 646.8,485.5"/>
<polygon fill="#ff0000" points="666.0,487.5 666.1,488.9 666.3,492.4 666.7,496.7 667.2,500.4 667.8,503.2 668.4,505.9 669.2,508.6 670.2,511.1 671.3,513.3 672.6,515.4 674.0,517.4 675.5,519.4 677.2,521.6 679.0,523.7 680.8,525.8 682.7,527.8 684.5,529.7 686.3,531.4 688.1,533.2 689.8,534.9 691.1,536.6 692.4,538.4 693.6,539.8 694.8,540.5 695.6,540.4 696.4,539.9 697.1,539.3 697.7,538.5 698.2,537.4 698.5,536.1 698.7,534.5 698.9,532.5 699.4,522.1 699.5,507.0 699.5,493.4 699.5,487.5 699.5,485.5 666.0,485.5"/>
<polygon fill="#64ffff" points="841.8,485.5 841.8,487.5 839.9,500.5 835.4,513.5 833.4,529.1 833.2,547.2 834.7,558.9 839.2,567.9 843.8,574.4 847.0,576.0 847.0,485.5"/>
<polygon fill="#19ffff" points="842.9,529.0 844.5,529.0 844.5,534.2 842.9,534.2"/>
</g>
<polygon fill="#0000ff" points="872.3,487.5 903.5,487.5 903.5,756.7 897.1,756.7 897.1,771.6 888.3,771.6 888.3,756.7 885.2,756.7 885.2,726.6 882.1,726.6 882.1,711.7 878.2,711.7 878.2,681.6 875.1,681.6 875.1,651.8 872.3,651.8"/>
<polygon fill="#0064ff" points="903.5,614.0 897.5,624.0 892.5,632.0 890.0,637.5 892.0,646.0 896.0,654.0 903.5,661.2"/>
<rect x="115.5" y="487.5" width="359.5" height="359.5" fill="none" stroke="#000" stroke-width="1.0"/>
<line x1="110.50" y1="581.10" x2="115.50" y2="581.10" stroke="#000" stroke-width="0.8"/>
<line x1="475.00" y1="581.10" x2="480.00" y2="581.10" stroke="#000" stroke-width="0.8"/>
<line x1="110.50" y1="619.80" x2="115.50" y2="619.80" stroke="#000" stroke-width="0.8"/>
<line x1="475.00" y1="619.80" x2="480.00" y2="619.80" stroke="#000" stroke-width="0.8"/>
<line x1="110.50" y1="645.10" x2="115.50" y2="645.10" stroke="#000" stroke-width="0.8"/>
<line x1="475.00" y1="645.10" x2="480.00" y2="645.10" stroke="#000" stroke-width="0.8"/>
<line x1="110.50" y1="665.10" x2="115.50" y2="665.10" stroke="#000" stroke-width="0.8"/>
<line x1="475.00" y1="665.10" x2="480.00" y2="665.10" stroke="#000" stroke-width="0.8"/>
<line x1="105.50" y1="682.20" x2="115.50" y2="682.20" stroke="#000" stroke-width="0.8"/>
<line x1="475.00" y1="682.20" x2="485.00" y2="682.20" stroke="#000" stroke-width="0.8"/>
<line x1="110.50" y1="696.70" x2="115.50" y2="696.70" stroke="#000" stroke-width="0.8"/>
<line x1="475.00" y1="696.70" x2="480.00" y2="696.70" stroke="#000" stroke-width="0.8"/>
<line x1="110.50" y1="709.50" x2="115.50" y2="709.50" stroke="#000" stroke-width="0.8"/>
<line x1="475.00" y1="709.50" x2="480.00" y2="709.50" stroke="#000" stroke-width="0.8"/>
<line x1="110.50" y1="720.80" x2="115.50" y2="720.80" stroke="#000" stroke-width="0.8"/>
<line x1="475.00" y1="720.80" x2="480.00" y2="720.80" stroke="#000" stroke-width="0.8"/>
<line x1="110.50" y1="731.50" x2="115.50" y2="731.50" stroke="#000" stroke-width="0.8"/>
<line x1="475.00" y1="731.50" x2="480.00" y2="731.50" stroke="#000" stroke-width="0.8"/>
<line x1="105.50" y1="741.50" x2="115.50" y2="741.50" stroke="#000" stroke-width="0.8"/>
<line x1="475.00" y1="741.50" x2="485.00" y2="741.50" stroke="#000" stroke-width="0.8"/>
<line x1="110.50" y1="750.50" x2="115.50" y2="750.50" stroke="#000" stroke-width="0.8"/>
<line x1="475.00" y1="750.50" x2="480.00" y2="750.50" stroke="#000" stroke-width="0.8"/>
<line x1="110.50" y1="759.50" x2="115.50" y2="759.50" stroke="#000" stroke-width="0.8"/>
<line x1="475.00" y1="759.50" x2="480.00" y2="759.50" stroke="#000" stroke-width="0.8"/>
<line x1="110.50" y1="768.20" x2="115.50" y2="768.20" stroke="#000" stroke-width="0.8"/>
<line x1="475.00" y1="768.20" x2="480.00" y2="768.20" stroke="#000" stroke-width="0.8"/>
<line x1="110.50" y1="776.40" x2="115.50" y2="776.40" stroke="#000" stroke-width="0.8"/>
<line x1="475.00" y1="776.40" x2="480.00" y2="776.40" stroke="#000" stroke-width="0.8"/>
<line x1="105.50" y1="784.20" x2="115.50" y2="784.20" stroke="#000" stroke-width="0.8"/>
<line x1="475.00" y1="784.20" x2="485.00" y2="784.20" stroke="#000" stroke-width="0.8"/>
<line x1="110.50" y1="791.90" x2="115.50" y2="791.90" stroke="#000" stroke-width="0.8"/>
<line x1="475.00" y1="791.90" x2="480.00" y2="791.90" stroke="#000" stroke-width="0.8"/>
<line x1="110.50" y1="799.40" x2="115.50" y2="799.40" stroke="#000" stroke-width="0.8"/>
<line x1="475.00" y1="799.40" x2="480.00" y2="799.40" stroke="#000" stroke-width="0.8"/>
<line x1="110.50" y1="806.40" x2="115.50" y2="806.40" stroke="#000" stroke-width="0.8"/>
<line x1="475.00" y1="806.40" x2="480.00" y2="806.40" stroke="#000" stroke-width="0.8"/>
<line x1="110.50" y1="813.30" x2="115.50" y2="813.30" stroke="#000" stroke-width="0.8"/>
<line x1="475.00" y1="813.30" x2="480.00" y2="813.30" stroke="#000" stroke-width="0.8"/>
<line x1="105.50" y1="820.50" x2="115.50" y2="820.50" stroke="#000" stroke-width="0.8"/>
<line x1="475.00" y1="820.50" x2="485.00" y2="820.50" stroke="#000" stroke-width="0.8"/>
<line x1="110.50" y1="827.20" x2="115.50" y2="827.20" stroke="#000" stroke-width="0.8"/>
<line x1="475.00" y1="827.20" x2="480.00" y2="827.20" stroke="#000" stroke-width="0.8"/>
<line x1="110.50" y1="834.40" x2="115.50" y2="834.40" stroke="#000" stroke-width="0.8"/>
<line x1="475.00" y1="834.40" x2="480.00" y2="834.40" stroke="#000" stroke-width="0.8"/>
<line x1="110.50" y1="841.30" x2="115.50" y2="841.30" stroke="#000" stroke-width="0.8"/>
<line x1="475.00" y1="841.30" x2="480.00" y2="841.30" stroke="#000" stroke-width="0.8"/>
<line x1="130.50" y1="482.50" x2="130.50" y2="487.50" stroke="#000" stroke-width="0.8"/>
<line x1="130.50" y1="847.00" x2="130.50" y2="852.00" stroke="#000" stroke-width="0.8"/>
<line x1="147.30" y1="477.50" x2="147.30" y2="487.50" stroke="#000" stroke-width="0.8"/>
<line x1="147.30" y1="847.00" x2="147.30" y2="857.00" stroke="#000" stroke-width="0.8"/>
<text transform="translate(147.30 881.30) scale(1.06 1)" font-size="15.6" text-anchor="middle">60S</text>
<line x1="164.40" y1="482.50" x2="164.40" y2="487.50" stroke="#000" stroke-width="0.8"/>
<line x1="164.40" y1="847.00" x2="164.40" y2="852.00" stroke="#000" stroke-width="0.8"/>
<line x1="181.40" y1="482.50" x2="181.40" y2="487.50" stroke="#000" stroke-width="0.8"/>
<line x1="181.40" y1="847.00" x2="181.40" y2="852.00" stroke="#000" stroke-width="0.8"/>
<line x1="198.40" y1="477.50" x2="198.40" y2="487.50" stroke="#000" stroke-width="0.8"/>
<line x1="198.40" y1="847.00" x2="198.40" y2="857.00" stroke="#000" stroke-width="0.8"/>
<text transform="translate(198.40 881.30) scale(1.06 1)" font-size="15.6" text-anchor="middle">30S</text>
<line x1="218.50" y1="482.50" x2="218.50" y2="487.50" stroke="#000" stroke-width="0.8"/>
<line x1="218.50" y1="847.00" x2="218.50" y2="852.00" stroke="#000" stroke-width="0.8"/>
<line x1="249.50" y1="482.50" x2="249.50" y2="487.50" stroke="#000" stroke-width="0.8"/>
<line x1="249.50" y1="847.00" x2="249.50" y2="852.00" stroke="#000" stroke-width="0.8"/>
<line x1="285.80" y1="477.50" x2="285.80" y2="487.50" stroke="#000" stroke-width="0.8"/>
<line x1="285.80" y1="847.00" x2="285.80" y2="857.00" stroke="#000" stroke-width="0.8"/>
<text transform="translate(285.80 881.30) scale(1.06 1)" font-size="15.6" text-anchor="middle">0</text>
<line x1="322.20" y1="482.50" x2="322.20" y2="487.50" stroke="#000" stroke-width="0.8"/>
<line x1="322.20" y1="847.00" x2="322.20" y2="852.00" stroke="#000" stroke-width="0.8"/>
<line x1="353.60" y1="482.50" x2="353.60" y2="487.50" stroke="#000" stroke-width="0.8"/>
<line x1="353.60" y1="847.00" x2="353.60" y2="852.00" stroke="#000" stroke-width="0.8"/>
<line x1="373.30" y1="477.50" x2="373.30" y2="487.50" stroke="#000" stroke-width="0.8"/>
<line x1="373.30" y1="847.00" x2="373.30" y2="857.00" stroke="#000" stroke-width="0.8"/>
<text transform="translate(373.30 881.30) scale(1.06 1)" font-size="15.6" text-anchor="middle">30N</text>
<line x1="390.30" y1="482.50" x2="390.30" y2="487.50" stroke="#000" stroke-width="0.8"/>
<line x1="390.30" y1="847.00" x2="390.30" y2="852.00" stroke="#000" stroke-width="0.8"/>
<line x1="407.40" y1="482.50" x2="407.40" y2="487.50" stroke="#000" stroke-width="0.8"/>
<line x1="407.40" y1="847.00" x2="407.40" y2="852.00" stroke="#000" stroke-width="0.8"/>
<line x1="424.40" y1="477.50" x2="424.40" y2="487.50" stroke="#000" stroke-width="0.8"/>
<line x1="424.40" y1="847.00" x2="424.40" y2="857.00" stroke="#000" stroke-width="0.8"/>
<text transform="translate(424.40 881.30) scale(1.06 1)" font-size="15.6" text-anchor="middle">60N</text>
<line x1="441.40" y1="482.50" x2="441.40" y2="487.50" stroke="#000" stroke-width="0.8"/>
<line x1="441.40" y1="847.00" x2="441.40" y2="852.00" stroke="#000" stroke-width="0.8"/>
<line x1="458.70" y1="482.50" x2="458.70" y2="487.50" stroke="#000" stroke-width="0.8"/>
<line x1="458.70" y1="847.00" x2="458.70" y2="852.00" stroke="#000" stroke-width="0.8"/>
<line x1="474.70" y1="477.50" x2="474.70" y2="487.50" stroke="#000" stroke-width="0.8"/>
<line x1="474.70" y1="847.00" x2="474.70" y2="857.00" stroke="#000" stroke-width="0.8"/>
<text transform="translate(474.70 881.30) scale(1.06 1)" font-size="15.6" text-anchor="middle">90N</text>
<rect x="544.0" y="487.5" width="359.5" height="359.5" fill="none" stroke="#000" stroke-width="1.0"/>
<line x1="539.00" y1="581.10" x2="544.00" y2="581.10" stroke="#000" stroke-width="0.8"/>
<line x1="903.50" y1="581.10" x2="908.50" y2="581.10" stroke="#000" stroke-width="0.8"/>
<line x1="539.00" y1="619.80" x2="544.00" y2="619.80" stroke="#000" stroke-width="0.8"/>
<line x1="903.50" y1="619.80" x2="908.50" y2="619.80" stroke="#000" stroke-width="0.8"/>
<line x1="539.00" y1="645.10" x2="544.00" y2="645.10" stroke="#000" stroke-width="0.8"/>
<line x1="903.50" y1="645.10" x2="908.50" y2="645.10" stroke="#000" stroke-width="0.8"/>
<line x1="539.00" y1="665.10" x2="544.00" y2="665.10" stroke="#000" stroke-width="0.8"/>
<line x1="903.50" y1="665.10" x2="908.50" y2="665.10" stroke="#000" stroke-width="0.8"/>
<line x1="534.00" y1="682.20" x2="544.00" y2="682.20" stroke="#000" stroke-width="0.8"/>
<line x1="903.50" y1="682.20" x2="913.50" y2="682.20" stroke="#000" stroke-width="0.8"/>
<line x1="539.00" y1="696.70" x2="544.00" y2="696.70" stroke="#000" stroke-width="0.8"/>
<line x1="903.50" y1="696.70" x2="908.50" y2="696.70" stroke="#000" stroke-width="0.8"/>
<line x1="539.00" y1="709.50" x2="544.00" y2="709.50" stroke="#000" stroke-width="0.8"/>
<line x1="903.50" y1="709.50" x2="908.50" y2="709.50" stroke="#000" stroke-width="0.8"/>
<line x1="539.00" y1="720.80" x2="544.00" y2="720.80" stroke="#000" stroke-width="0.8"/>
<line x1="903.50" y1="720.80" x2="908.50" y2="720.80" stroke="#000" stroke-width="0.8"/>
<line x1="539.00" y1="731.50" x2="544.00" y2="731.50" stroke="#000" stroke-width="0.8"/>
<line x1="903.50" y1="731.50" x2="908.50" y2="731.50" stroke="#000" stroke-width="0.8"/>
<line x1="534.00" y1="741.50" x2="544.00" y2="741.50" stroke="#000" stroke-width="0.8"/>
<line x1="903.50" y1="741.50" x2="913.50" y2="741.50" stroke="#000" stroke-width="0.8"/>
<line x1="539.00" y1="750.50" x2="544.00" y2="750.50" stroke="#000" stroke-width="0.8"/>
<line x1="903.50" y1="750.50" x2="908.50" y2="750.50" stroke="#000" stroke-width="0.8"/>
<line x1="539.00" y1="759.50" x2="544.00" y2="759.50" stroke="#000" stroke-width="0.8"/>
<line x1="903.50" y1="759.50" x2="908.50" y2="759.50" stroke="#000" stroke-width="0.8"/>
<line x1="539.00" y1="768.20" x2="544.00" y2="768.20" stroke="#000" stroke-width="0.8"/>
<line x1="903.50" y1="768.20" x2="908.50" y2="768.20" stroke="#000" stroke-width="0.8"/>
<line x1="539.00" y1="776.40" x2="544.00" y2="776.40" stroke="#000" stroke-width="0.8"/>
<line x1="903.50" y1="776.40" x2="908.50" y2="776.40" stroke="#000" stroke-width="0.8"/>
<line x1="534.00" y1="784.20" x2="544.00" y2="784.20" stroke="#000" stroke-width="0.8"/>
<line x1="903.50" y1="784.20" x2="913.50" y2="784.20" stroke="#000" stroke-width="0.8"/>
<line x1="539.00" y1="791.90" x2="544.00" y2="791.90" stroke="#000" stroke-width="0.8"/>
<line x1="903.50" y1="791.90" x2="908.50" y2="791.90" stroke="#000" stroke-width="0.8"/>
<line x1="539.00" y1="799.40" x2="544.00" y2="799.40" stroke="#000" stroke-width="0.8"/>
<line x1="903.50" y1="799.40" x2="908.50" y2="799.40" stroke="#000" stroke-width="0.8"/>
<line x1="539.00" y1="806.40" x2="544.00" y2="806.40" stroke="#000" stroke-width="0.8"/>
<line x1="903.50" y1="806.40" x2="908.50" y2="806.40" stroke="#000" stroke-width="0.8"/>
<line x1="539.00" y1="813.30" x2="544.00" y2="813.30" stroke="#000" stroke-width="0.8"/>
<line x1="903.50" y1="813.30" x2="908.50" y2="813.30" stroke="#000" stroke-width="0.8"/>
<line x1="534.00" y1="820.50" x2="544.00" y2="820.50" stroke="#000" stroke-width="0.8"/>
<line x1="903.50" y1="820.50" x2="913.50" y2="820.50" stroke="#000" stroke-width="0.8"/>
<line x1="539.00" y1="827.20" x2="544.00" y2="827.20" stroke="#000" stroke-width="0.8"/>
<line x1="903.50" y1="827.20" x2="908.50" y2="827.20" stroke="#000" stroke-width="0.8"/>
<line x1="539.00" y1="834.40" x2="544.00" y2="834.40" stroke="#000" stroke-width="0.8"/>
<line x1="903.50" y1="834.40" x2="908.50" y2="834.40" stroke="#000" stroke-width="0.8"/>
<line x1="539.00" y1="841.30" x2="544.00" y2="841.30" stroke="#000" stroke-width="0.8"/>
<line x1="903.50" y1="841.30" x2="908.50" y2="841.30" stroke="#000" stroke-width="0.8"/>
<line x1="559.10" y1="482.50" x2="559.10" y2="487.50" stroke="#000" stroke-width="0.8"/>
<line x1="559.10" y1="847.00" x2="559.10" y2="852.00" stroke="#000" stroke-width="0.8"/>
<line x1="575.90" y1="477.50" x2="575.90" y2="487.50" stroke="#000" stroke-width="0.8"/>
<line x1="575.90" y1="847.00" x2="575.90" y2="857.00" stroke="#000" stroke-width="0.8"/>
<text transform="translate(575.90 881.30) scale(1.06 1)" font-size="15.6" text-anchor="middle">60S</text>
<line x1="593.00" y1="482.50" x2="593.00" y2="487.50" stroke="#000" stroke-width="0.8"/>
<line x1="593.00" y1="847.00" x2="593.00" y2="852.00" stroke="#000" stroke-width="0.8"/>
<line x1="610.00" y1="482.50" x2="610.00" y2="487.50" stroke="#000" stroke-width="0.8"/>
<line x1="610.00" y1="847.00" x2="610.00" y2="852.00" stroke="#000" stroke-width="0.8"/>
<line x1="627.00" y1="477.50" x2="627.00" y2="487.50" stroke="#000" stroke-width="0.8"/>
<line x1="627.00" y1="847.00" x2="627.00" y2="857.00" stroke="#000" stroke-width="0.8"/>
<text transform="translate(627.00 881.30) scale(1.06 1)" font-size="15.6" text-anchor="middle">30S</text>
<line x1="647.10" y1="482.50" x2="647.10" y2="487.50" stroke="#000" stroke-width="0.8"/>
<line x1="647.10" y1="847.00" x2="647.10" y2="852.00" stroke="#000" stroke-width="0.8"/>
<line x1="678.10" y1="482.50" x2="678.10" y2="487.50" stroke="#000" stroke-width="0.8"/>
<line x1="678.10" y1="847.00" x2="678.10" y2="852.00" stroke="#000" stroke-width="0.8"/>
<line x1="714.40" y1="477.50" x2="714.40" y2="487.50" stroke="#000" stroke-width="0.8"/>
<line x1="714.40" y1="847.00" x2="714.40" y2="857.00" stroke="#000" stroke-width="0.8"/>
<text transform="translate(714.40 881.30) scale(1.06 1)" font-size="15.6" text-anchor="middle">0</text>
<line x1="750.80" y1="482.50" x2="750.80" y2="487.50" stroke="#000" stroke-width="0.8"/>
<line x1="750.80" y1="847.00" x2="750.80" y2="852.00" stroke="#000" stroke-width="0.8"/>
<line x1="782.20" y1="482.50" x2="782.20" y2="487.50" stroke="#000" stroke-width="0.8"/>
<line x1="782.20" y1="847.00" x2="782.20" y2="852.00" stroke="#000" stroke-width="0.8"/>
<line x1="801.90" y1="477.50" x2="801.90" y2="487.50" stroke="#000" stroke-width="0.8"/>
<line x1="801.90" y1="847.00" x2="801.90" y2="857.00" stroke="#000" stroke-width="0.8"/>
<text transform="translate(801.90 881.30) scale(1.06 1)" font-size="15.6" text-anchor="middle">30N</text>
<line x1="818.90" y1="482.50" x2="818.90" y2="487.50" stroke="#000" stroke-width="0.8"/>
<line x1="818.90" y1="847.00" x2="818.90" y2="852.00" stroke="#000" stroke-width="0.8"/>
<line x1="836.00" y1="482.50" x2="836.00" y2="487.50" stroke="#000" stroke-width="0.8"/>
<line x1="836.00" y1="847.00" x2="836.00" y2="852.00" stroke="#000" stroke-width="0.8"/>
<line x1="853.00" y1="477.50" x2="853.00" y2="487.50" stroke="#000" stroke-width="0.8"/>
<line x1="853.00" y1="847.00" x2="853.00" y2="857.00" stroke="#000" stroke-width="0.8"/>
<text transform="translate(853.00 881.30) scale(1.06 1)" font-size="15.6" text-anchor="middle">60N</text>
<line x1="870.00" y1="482.50" x2="870.00" y2="487.50" stroke="#000" stroke-width="0.8"/>
<line x1="870.00" y1="847.00" x2="870.00" y2="852.00" stroke="#000" stroke-width="0.8"/>
<line x1="887.30" y1="482.50" x2="887.30" y2="487.50" stroke="#000" stroke-width="0.8"/>
<line x1="887.30" y1="847.00" x2="887.30" y2="852.00" stroke="#000" stroke-width="0.8"/>
<line x1="903.30" y1="477.50" x2="903.30" y2="487.50" stroke="#000" stroke-width="0.8"/>
<line x1="903.30" y1="847.00" x2="903.30" y2="857.00" stroke="#000" stroke-width="0.8"/>
<text transform="translate(903.30 881.30) scale(1.06 1)" font-size="15.6" text-anchor="middle">90N</text>
<text transform="translate(94.60 687.80) scale(1.06 1)" font-size="15.6" text-anchor="end">100000</text>
<text transform="translate(94.60 747.10) scale(1.06 1)" font-size="15.6" text-anchor="end">200000</text>
<text transform="translate(94.60 789.80) scale(1.06 1)" font-size="15.6" text-anchor="end">300000</text>
<text transform="translate(94.60 826.10) scale(1.06 1)" font-size="15.6" text-anchor="end">400000</text>
<text x="23.40" y="667.25" font-size="20" text-anchor="middle" textLength="125.4" lengthAdjust="spacingAndGlyphs" transform="rotate(-90 23.40 667.25)">Depth (T grid)</text>
<rect x="98.10" y="902.2" width="52.77" height="26.40" fill="#0000ff" stroke="#000" stroke-width="0.6"/>
<rect x="150.87" y="902.2" width="52.77" height="26.40" fill="#00d7ff" stroke="#000" stroke-width="0.6"/>
<rect x="203.63" y="902.2" width="52.77" height="26.40" fill="#19ffff" stroke="#000" stroke-width="0.6"/>
<rect x="256.40" y="902.2" width="52.77" height="26.40" fill="#96ffff" stroke="#000" stroke-width="0.6"/>
<rect x="309.17" y="902.2" width="52.77" height="26.40" fill="#64ff96" stroke="#000" stroke-width="0.6"/>
<rect x="361.93" y="902.2" width="52.77" height="26.40" fill="#32ff00" stroke="#000" stroke-width="0.6"/>
<rect x="414.70" y="902.2" width="52.77" height="26.40" fill="#82ff00" stroke="#000" stroke-width="0.6"/>
<rect x="467.47" y="902.2" width="52.77" height="26.40" fill="#e1f50f" stroke="#000" stroke-width="0.6"/>
<rect x="520.23" y="902.2" width="52.77" height="26.40" fill="#ffff00" stroke="#000" stroke-width="0.6"/>
<rect x="573.00" y="902.2" width="52.77" height="26.40" fill="#ffe600" stroke="#000" stroke-width="0.6"/>
<rect x="625.77" y="902.2" width="52.77" height="26.40" fill="#ffc800" stroke="#000" stroke-width="0.6"/>
<rect x="678.53" y="902.2" width="52.77" height="26.40" fill="#ff8200" stroke="#000" stroke-width="0.6"/>
<rect x="731.30" y="902.2" width="52.77" height="26.40" fill="#ff6400" stroke="#000" stroke-width="0.6"/>
<rect x="784.07" y="902.2" width="52.77" height="26.40" fill="#ff2800" stroke="#000" stroke-width="0.6"/>
<rect x="836.83" y="902.2" width="52.77" height="26.40" fill="#ff0000" stroke="#000" stroke-width="0.6"/>
<text transform="translate(150.87 948.60) scale(1.06 1)" font-size="15.6" text-anchor="middle">0</text>
<text transform="translate(203.63 948.60) scale(1.06 1)" font-size="15.6" text-anchor="middle">2</text>
<text transform="translate(256.40 948.60) scale(1.06 1)" font-size="15.6" text-anchor="middle">4</text>
<text transform="translate(309.17 948.60) scale(1.06 1)" font-size="15.6" text-anchor="middle">6</text>
<text transform="translate(361.93 948.60) scale(1.06 1)" font-size="15.6" text-anchor="middle">8</text>
<text transform="translate(414.70 948.60) scale(1.06 1)" font-size="15.6" text-anchor="middle">10</text>
<text transform="translate(467.47 948.60) scale(1.06 1)" font-size="15.6" text-anchor="middle">12</text>
<text transform="translate(520.23 948.60) scale(1.06 1)" font-size="15.6" text-anchor="middle">14</text>
<text transform="translate(573.00 948.60) scale(1.06 1)" font-size="15.6" text-anchor="middle">16</text>
<text transform="translate(625.77 948.60) scale(1.06 1)" font-size="15.6" text-anchor="middle">18</text>
<text transform="translate(678.53 948.60) scale(1.06 1)" font-size="15.6" text-anchor="middle">20</text>
<text transform="translate(731.30 948.60) scale(1.06 1)" font-size="15.6" text-anchor="middle">22</text>
<text transform="translate(784.07 948.60) scale(1.06 1)" font-size="15.6" text-anchor="middle">24</text>
<text transform="translate(836.83 948.60) scale(1.06 1)" font-size="15.6" text-anchor="middle">26</text>
</svg></div></body></html>
